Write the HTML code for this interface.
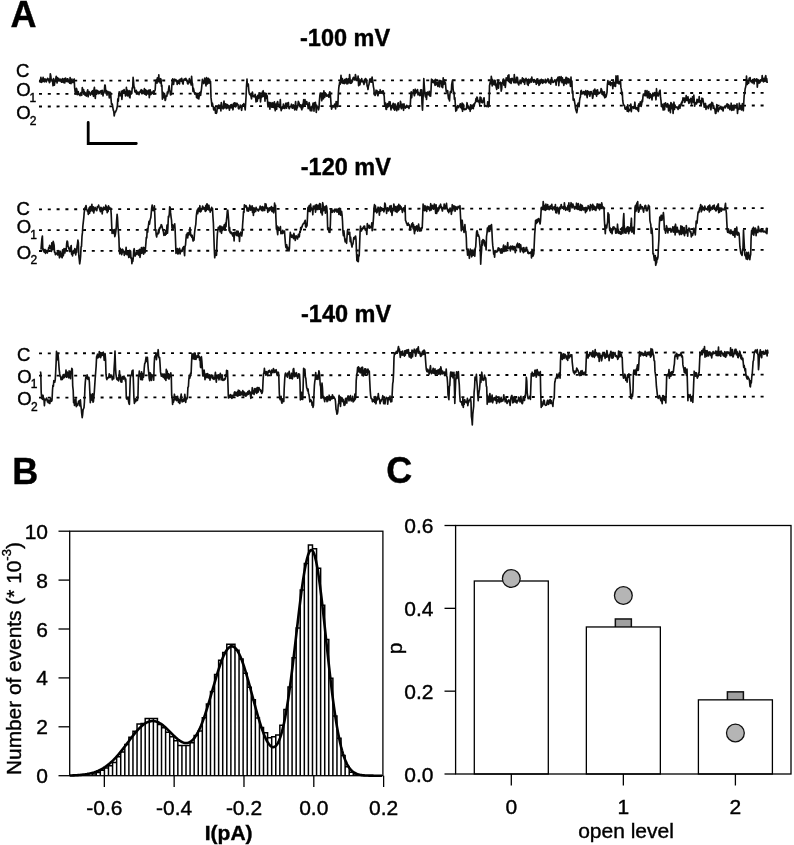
<!DOCTYPE html>
<html><head><meta charset="utf-8"><style>html,body{margin:0;padding:0;background:#fff;width:794px;height:845px;overflow:hidden}svg{display:block}text{font-family:"Liberation Sans",sans-serif;stroke:#000;stroke-width:0.4px}svg{filter:grayscale(1)}</style></head>
<body>
<svg width="794" height="845" viewBox="0 0 794 845" font-family="Liberation Sans, sans-serif">
<rect width="794" height="845" fill="#fff"/>
<text x="10.5" y="27" font-size="36" font-weight="bold" fill="#000">A</text>
<text x="12.3" y="483.5" font-size="36" font-weight="bold" fill="#000">B</text>
<text x="386.3" y="482.8" font-size="36" font-weight="bold" fill="#000">C</text>
<text x="300" y="46" font-size="23.5" font-weight="bold" fill="#000">-100 mV</text>
<text x="300.8" y="175" font-size="23.5" font-weight="bold" fill="#000">-120 mV</text>
<text x="301" y="322" font-size="23.5" font-weight="bold" fill="#000">-140 mV</text>
<text x="16" y="77.3" font-size="18.5" fill="#000">C</text><text x="16.2" y="96" font-size="18.5" fill="#000">O</text><text x="29.6" y="101.6" font-size="12" fill="#000">1</text><text x="16.2" y="119" font-size="18.5" fill="#000">O</text><text x="29.8" y="124.5" font-size="12" fill="#000">2</text>
<text x="16.6" y="215" font-size="18.5" fill="#000">C</text><text x="16.8" y="233.3" font-size="18.5" fill="#000">O</text><text x="30.200000000000003" y="238.7" font-size="12" fill="#000">1</text><text x="16.8" y="258.6" font-size="18.5" fill="#000">O</text><text x="30.400000000000002" y="263.7" font-size="12" fill="#000">2</text>
<text x="17.1" y="360.8" font-size="18.5" fill="#000">C</text><text x="17.3" y="382.8" font-size="18.5" fill="#000">O</text><text x="30.700000000000003" y="388.3" font-size="12" fill="#000">1</text><text x="17.3" y="405.4" font-size="18.5" fill="#000">O</text><text x="30.900000000000002" y="411" font-size="12" fill="#000">2</text>
<line x1="39" y1="80.6" x2="768" y2="80.0" stroke="#000" stroke-width="1.8" stroke-dasharray="3 5.8"/>
<line x1="39" y1="93.9" x2="768" y2="92.9" stroke="#000" stroke-width="1.8" stroke-dasharray="3 5.8"/>
<line x1="39" y1="106.5" x2="768" y2="105.5" stroke="#000" stroke-width="1.8" stroke-dasharray="3 5.8"/>
<line x1="39" y1="209.3" x2="768" y2="208.2" stroke="#000" stroke-width="1.8" stroke-dasharray="3 5.8"/>
<line x1="39" y1="230.1" x2="768" y2="228.9" stroke="#000" stroke-width="1.8" stroke-dasharray="3 5.8"/>
<line x1="39" y1="251.0" x2="768" y2="249.9" stroke="#000" stroke-width="1.8" stroke-dasharray="3 5.8"/>
<line x1="39" y1="353.3" x2="768" y2="352.4" stroke="#000" stroke-width="1.8" stroke-dasharray="3 5.8"/>
<line x1="39" y1="375.6" x2="768" y2="374.7" stroke="#000" stroke-width="1.8" stroke-dasharray="3 5.8"/>
<line x1="39" y1="397.6" x2="768" y2="396.7" stroke="#000" stroke-width="1.8" stroke-dasharray="3 5.8"/>
<path d="M39.5,80.9 L40.0,82.0 L40.4,80.8 L40.9,77.4 L41.3,82.4 L41.8,81.2 L42.2,79.0 L42.7,81.7 L43.1,77.4 L43.6,81.0 L44.0,80.8 L44.5,81.8 L44.9,78.9 L45.4,80.0 L45.8,79.4 L46.3,81.9 L46.7,80.4 L47.2,79.7 L47.6,78.3 L48.1,79.3 L48.5,79.8 L49.0,79.2 L49.4,82.6 L49.9,82.0 L50.3,73.8 L50.8,75.9 L51.2,79.7 L51.7,79.5 L52.1,81.3 L52.6,81.4 L53.0,85.8 L53.5,78.5 L53.9,80.0 L54.4,85.2 L54.8,82.0 L55.3,81.7 L55.7,78.8 L56.2,76.4 L56.6,80.3 L57.1,83.0 L57.5,77.6 L58.0,78.8 L58.4,80.4 L58.9,78.6 L59.3,80.6 L59.8,80.9 L60.2,80.7 L60.7,79.2 L61.1,81.5 L61.6,82.2 L62.0,81.2 L62.5,78.6 L62.9,82.1 L63.4,79.5 L63.8,82.6 L64.3,78.5 L64.7,83.0 L65.2,81.0 L65.6,78.1 L66.1,80.4 L66.5,81.2 L67.0,81.6 L67.4,78.9 L67.9,78.9 L68.3,81.8 L68.8,80.4 L69.2,82.1 L69.7,83.2 L70.1,77.6 L70.6,81.6 L71.0,83.6 L71.5,79.9 L71.9,79.0 L72.4,82.5 L72.8,81.2 L73.3,82.3 L73.7,79.7 L74.2,79.0 L74.6,87.5 L75.1,91.5 L75.5,93.8 L76.0,92.3 L76.4,88.3 L76.9,89.7 L77.3,94.7 L77.8,94.3 L78.2,91.5 L78.7,93.7 L79.1,94.6 L79.6,94.9 L80.0,95.7 L80.5,94.0 L80.9,92.7 L81.4,92.4 L81.8,95.3 L82.3,87.6 L82.7,92.1 L83.2,92.5 L83.6,89.6 L84.1,93.7 L84.5,91.9 L85.0,95.1 L85.4,92.8 L85.9,94.9 L86.3,96.1 L86.8,94.2 L87.2,91.5 L87.7,89.9 L88.1,96.8 L88.6,92.8 L89.0,91.6 L89.5,93.3 L89.9,92.8 L90.4,95.2 L90.8,93.2 L91.3,93.0 L91.7,91.6 L92.2,94.1 L92.6,90.7 L93.1,94.5 L93.5,96.3 L94.0,89.4 L94.4,87.3 L94.9,94.4 L95.3,98.5 L95.8,90.8 L96.2,90.1 L96.7,94.1 L97.1,90.8 L97.6,90.5 L98.0,91.9 L98.5,93.6 L98.9,91.7 L99.4,93.4 L99.8,92.5 L100.3,91.0 L100.7,92.3 L101.2,90.9 L101.6,93.1 L102.1,90.4 L102.5,90.5 L103.0,96.0 L103.4,92.9 L103.9,93.0 L104.3,91.4 L104.8,85.1 L105.2,85.3 L105.7,90.9 L106.1,93.7 L106.6,90.7 L107.0,95.2 L107.5,92.1 L107.9,91.5 L108.4,92.3 L108.8,93.4 L109.3,98.0 L109.7,92.0 L110.2,95.8 L110.6,92.6 L111.1,99.7 L111.5,104.1 L112.0,103.7 L112.4,104.5 L112.9,107.8 L113.3,110.1 L113.8,111.4 L114.2,115.9 L114.7,113.3 L115.1,112.0 L115.6,111.9 L116.0,110.7 L116.5,109.8 L116.9,108.1 L117.4,106.0 L117.8,98.8 L118.3,101.3 L118.7,95.4 L119.2,91.9 L119.6,95.0 L120.1,95.8 L120.5,94.1 L121.0,93.6 L121.4,91.2 L121.9,99.5 L122.3,95.0 L122.8,90.5 L123.2,91.2 L123.7,93.1 L124.1,89.6 L124.6,93.1 L125.0,92.0 L125.5,96.0 L125.9,95.6 L126.4,87.3 L126.8,93.5 L127.3,90.0 L127.7,96.0 L128.2,93.8 L128.6,94.6 L129.1,90.6 L129.5,97.0 L130.0,97.8 L130.4,91.2 L130.9,94.3 L131.3,91.7 L131.8,93.5 L132.2,87.8 L132.7,88.0 L133.1,77.3 L133.6,82.1 L134.0,86.7 L134.5,87.6 L134.9,92.0 L135.4,91.9 L135.8,92.7 L136.3,90.4 L136.7,91.8 L137.2,92.3 L137.6,92.2 L138.1,93.1 L138.5,92.3 L139.0,94.6 L139.4,92.0 L139.9,92.5 L140.3,91.2 L140.8,91.5 L141.2,89.7 L141.7,93.7 L142.1,90.2 L142.6,90.9 L143.0,93.6 L143.5,92.9 L143.9,92.1 L144.4,88.6 L144.8,94.1 L145.3,93.6 L145.7,89.9 L146.2,95.1 L146.6,91.8 L147.1,90.7 L147.5,93.4 L148.0,92.8 L148.4,94.0 L148.9,90.1 L149.3,97.6 L149.8,92.2 L150.2,89.9 L150.7,94.6 L151.1,92.5 L151.6,93.9 L152.0,92.1 L152.5,92.6 L152.9,93.3 L153.4,90.9 L153.8,94.2 L154.3,91.5 L154.7,91.0 L155.2,89.7 L155.6,82.2 L156.1,81.1 L156.5,79.7 L157.0,83.2 L157.4,77.9 L157.9,79.6 L158.3,81.7 L158.8,74.9 L159.2,81.2 L159.7,80.9 L160.1,82.9 L160.6,78.7 L161.0,79.3 L161.5,86.4 L161.9,85.2 L162.4,99.2 L162.8,92.1 L163.3,93.3 L163.7,97.7 L164.2,97.0 L164.6,94.4 L165.1,100.4 L165.5,99.9 L166.0,96.3 L166.4,95.6 L166.9,96.2 L167.3,92.1 L167.8,93.8 L168.2,91.9 L168.7,88.3 L169.1,85.8 L169.6,90.4 L170.0,91.1 L170.5,94.9 L170.9,93.2 L171.4,94.4 L171.8,85.9 L172.3,81.3 L172.7,78.8 L173.2,82.1 L173.6,84.5 L174.1,80.0 L174.5,79.2 L175.0,80.6 L175.4,79.8 L175.9,79.6 L176.3,81.5 L176.8,80.5 L177.2,84.4 L177.7,81.1 L178.1,81.9 L178.6,83.2 L179.0,80.2 L179.5,84.0 L179.9,79.7 L180.4,79.2 L180.8,80.2 L181.3,81.1 L181.7,78.3 L182.2,81.2 L182.6,83.1 L183.1,84.1 L183.5,80.7 L184.0,79.6 L184.4,78.9 L184.9,80.0 L185.3,80.2 L185.8,78.4 L186.2,79.3 L186.7,80.9 L187.1,80.3 L187.6,83.5 L188.0,84.0 L188.5,81.4 L188.9,82.5 L189.4,78.5 L189.8,82.6 L190.3,81.4 L190.7,82.5 L191.2,85.0 L191.6,76.3 L192.1,82.5 L192.5,83.7 L193.0,91.4 L193.4,88.1 L193.9,90.4 L194.3,92.6 L194.8,94.1 L195.2,93.8 L195.7,92.8 L196.1,93.7 L196.6,97.6 L197.0,96.4 L197.5,93.5 L197.9,98.4 L198.4,98.6 L198.8,98.9 L199.3,95.3 L199.7,92.7 L200.2,92.3 L200.6,95.3 L201.1,91.6 L201.5,88.8 L202.0,83.9 L202.4,79.3 L202.9,80.9 L203.3,81.3 L203.8,83.6 L204.2,82.4 L204.7,78.2 L205.1,81.8 L205.6,82.7 L206.0,86.0 L206.5,77.5 L206.9,79.8 L207.4,83.9 L207.8,83.5 L208.3,78.3 L208.7,82.2 L209.2,83.1 L209.6,79.4 L210.1,82.1 L210.5,81.4 L211.0,97.4 L211.4,100.9 L211.9,106.2 L212.3,103.0 L212.8,105.3 L213.2,106.3 L213.7,109.8 L214.1,109.8 L214.6,107.7 L215.0,107.3 L215.5,113.2 L215.9,112.3 L216.4,113.3 L216.8,112.3 L217.3,106.9 L217.7,108.8 L218.2,107.5 L218.6,105.1 L219.1,108.4 L219.5,107.3 L220.0,105.3 L220.4,105.7 L220.9,110.9 L221.3,102.5 L221.8,107.2 L222.2,108.0 L222.7,107.0 L223.1,108.9 L223.6,103.9 L224.0,101.0 L224.5,108.0 L224.9,103.9 L225.4,105.7 L225.8,103.9 L226.3,108.6 L226.7,107.9 L227.2,104.6 L227.6,108.0 L228.1,106.1 L228.5,105.4 L229.0,105.9 L229.4,110.2 L229.9,106.8 L230.3,106.4 L230.8,104.8 L231.2,108.0 L231.7,104.6 L232.1,106.8 L232.6,107.3 L233.0,109.8 L233.5,103.5 L233.9,105.9 L234.4,102.9 L234.8,103.2 L235.3,103.1 L235.7,106.8 L236.2,106.1 L236.6,103.4 L237.1,103.4 L237.5,104.7 L238.0,104.5 L238.4,108.4 L238.9,108.9 L239.3,108.0 L239.8,107.0 L240.2,105.1 L240.7,106.0 L241.1,107.7 L241.6,110.3 L242.0,107.6 L242.5,104.9 L242.9,105.5 L243.4,104.4 L243.8,103.7 L244.3,105.0 L244.7,106.2 L245.2,110.0 L245.6,103.6 L246.1,95.8 L246.5,86.0 L247.0,79.0 L247.4,85.2 L247.9,86.1 L248.3,84.1 L248.8,90.5 L249.2,93.2 L249.7,94.5 L250.1,94.5 L250.6,95.3 L251.0,96.1 L251.5,98.8 L251.9,95.1 L252.4,92.1 L252.8,95.8 L253.3,96.7 L253.7,95.7 L254.2,96.2 L254.6,96.9 L255.1,94.3 L255.5,95.6 L256.0,101.9 L256.4,98.2 L256.9,96.8 L257.3,101.3 L257.8,95.3 L258.2,97.5 L258.7,98.3 L259.1,92.8 L259.6,94.0 L260.0,93.1 L260.5,101.9 L260.9,98.6 L261.4,96.6 L261.8,95.5 L262.3,92.2 L262.7,96.8 L263.2,90.7 L263.6,96.3 L264.1,95.7 L264.5,93.0 L265.0,101.1 L265.4,93.3 L265.9,94.1 L266.3,93.6 L266.8,98.6 L267.2,95.9 L267.7,103.8 L268.1,106.8 L268.6,105.8 L269.0,102.4 L269.5,103.9 L269.9,109.2 L270.4,102.7 L270.8,103.7 L271.3,104.9 L271.7,107.2 L272.2,102.7 L272.6,107.1 L273.1,103.1 L273.5,107.5 L274.0,106.8 L274.4,101.9 L274.9,108.9 L275.3,110.7 L275.8,104.1 L276.2,106.1 L276.7,109.2 L277.1,102.7 L277.6,101.5 L278.0,103.3 L278.5,104.8 L278.9,104.9 L279.4,107.5 L279.8,106.6 L280.3,99.5 L280.7,107.4 L281.2,110.6 L281.6,109.1 L282.1,108.7 L282.5,106.5 L283.0,108.3 L283.4,104.1 L283.9,107.9 L284.3,106.1 L284.8,108.5 L285.2,106.8 L285.7,103.3 L286.1,105.8 L286.6,108.2 L287.0,103.0 L287.5,104.5 L287.9,104.2 L288.4,102.5 L288.8,107.9 L289.3,108.7 L289.7,107.7 L290.2,106.7 L290.6,106.1 L291.1,106.5 L291.5,104.2 L292.0,107.9 L292.4,108.2 L292.9,108.2 L293.3,104.9 L293.8,106.3 L294.2,105.8 L294.7,110.0 L295.1,106.3 L295.6,101.5 L296.0,106.7 L296.5,110.0 L296.9,107.4 L297.4,107.6 L297.8,105.5 L298.3,101.4 L298.7,101.9 L299.2,103.5 L299.6,106.0 L300.1,106.8 L300.5,104.8 L301.0,105.7 L301.4,108.6 L301.9,109.8 L302.3,104.6 L302.8,107.8 L303.2,103.9 L303.7,99.7 L304.1,103.3 L304.6,105.4 L305.0,99.5 L305.5,104.7 L305.9,104.4 L306.4,101.8 L306.8,101.6 L307.3,104.4 L307.7,104.3 L308.2,108.6 L308.6,106.9 L309.1,102.5 L309.5,104.4 L310.0,109.7 L310.4,110.7 L310.9,107.3 L311.3,107.0 L311.8,110.8 L312.2,106.7 L312.7,105.7 L313.1,103.1 L313.6,105.0 L314.0,111.1 L314.5,102.8 L314.9,105.8 L315.4,102.3 L315.8,105.6 L316.3,112.5 L316.7,105.3 L317.2,107.6 L317.6,107.6 L318.1,107.1 L318.5,109.8 L319.0,107.7 L319.4,101.0 L319.9,95.1 L320.3,93.0 L320.8,95.6 L321.2,93.9 L321.7,100.8 L322.1,99.1 L322.6,94.6 L323.0,94.5 L323.5,98.8 L323.9,90.9 L324.4,96.3 L324.8,97.1 L325.3,92.9 L325.7,93.6 L326.2,93.9 L326.6,96.1 L327.1,95.1 L327.5,95.7 L328.0,96.2 L328.4,94.9 L328.9,97.2 L329.3,93.3 L329.8,91.8 L330.2,93.5 L330.7,98.9 L331.1,105.4 L331.6,109.1 L332.0,107.5 L332.5,106.1 L332.9,105.5 L333.4,106.6 L333.8,107.0 L334.3,106.2 L334.7,104.0 L335.2,106.1 L335.6,109.0 L336.1,101.5 L336.5,105.6 L337.0,101.8 L337.4,106.6 L337.9,104.8 L338.3,94.1 L338.8,87.7 L339.2,85.5 L339.7,82.1 L340.1,84.3 L340.6,81.6 L341.0,75.3 L341.5,82.7 L341.9,80.9 L342.4,78.6 L342.8,83.3 L343.3,82.3 L343.7,80.6 L344.2,83.6 L344.6,79.6 L345.1,83.1 L345.5,79.3 L346.0,82.5 L346.4,78.6 L346.9,83.9 L347.3,81.2 L347.8,83.7 L348.2,78.8 L348.7,79.5 L349.1,82.6 L349.6,74.6 L350.0,78.5 L350.5,83.3 L350.9,82.0 L351.4,83.1 L351.8,80.2 L352.3,82.0 L352.7,79.0 L353.2,77.8 L353.6,77.3 L354.1,79.7 L354.5,79.9 L355.0,79.5 L355.4,74.5 L355.9,76.8 L356.3,80.1 L356.8,79.2 L357.2,80.0 L357.7,79.2 L358.1,76.1 L358.6,85.8 L359.0,78.8 L359.5,85.0 L359.9,84.8 L360.4,81.8 L360.8,79.8 L361.3,81.7 L361.7,78.6 L362.2,81.7 L362.6,80.9 L363.1,82.0 L363.5,82.8 L364.0,84.5 L364.4,79.8 L364.9,82.7 L365.3,78.7 L365.8,78.5 L366.2,79.9 L366.7,80.4 L367.1,86.0 L367.6,87.2 L368.0,89.5 L368.5,85.4 L368.9,85.0 L369.4,81.7 L369.8,79.0 L370.3,81.9 L370.7,81.8 L371.2,78.6 L371.6,82.2 L372.1,77.0 L372.5,80.4 L373.0,82.8 L373.4,86.6 L373.9,89.2 L374.3,94.6 L374.8,94.0 L375.2,95.4 L375.7,93.2 L376.1,90.2 L376.6,92.3 L377.0,90.6 L377.5,94.1 L377.9,95.7 L378.4,93.9 L378.8,91.7 L379.3,92.1 L379.7,93.1 L380.2,89.7 L380.6,93.2 L381.1,93.2 L381.5,91.6 L382.0,91.8 L382.4,92.9 L382.9,90.8 L383.3,91.0 L383.8,94.5 L384.2,96.0 L384.7,105.7 L385.1,105.0 L385.6,103.1 L386.0,109.3 L386.5,109.3 L386.9,105.6 L387.4,103.9 L387.8,107.2 L388.3,103.3 L388.7,106.1 L389.2,101.7 L389.6,106.0 L390.1,101.8 L390.5,106.0 L391.0,110.0 L391.4,105.9 L391.9,108.0 L392.3,105.1 L392.8,104.8 L393.2,103.3 L393.7,108.9 L394.1,106.5 L394.6,110.2 L395.0,103.9 L395.5,106.2 L395.9,106.8 L396.4,109.6 L396.8,110.7 L397.3,105.2 L397.7,104.1 L398.2,102.8 L398.6,109.6 L399.1,106.9 L399.5,105.5 L400.0,107.0 L400.4,101.3 L400.9,103.1 L401.3,108.7 L401.8,107.4 L402.2,106.8 L402.7,104.2 L403.1,107.7 L403.6,110.3 L404.0,103.9 L404.5,106.9 L404.9,106.2 L405.4,108.1 L405.8,107.4 L406.3,107.1 L406.7,105.3 L407.2,107.3 L407.6,106.1 L408.1,106.9 L408.5,106.9 L409.0,108.4 L409.4,105.7 L409.9,106.1 L410.3,104.9 L410.8,95.7 L411.2,91.9 L411.7,97.8 L412.1,93.2 L412.6,92.8 L413.0,93.2 L413.5,89.8 L413.9,93.7 L414.4,95.7 L414.8,94.0 L415.3,89.2 L415.7,93.1 L416.2,90.8 L416.6,91.7 L417.1,92.7 L417.5,89.5 L418.0,95.0 L418.4,92.2 L418.9,94.2 L419.3,94.1 L419.8,95.6 L420.2,95.5 L420.7,89.9 L421.1,93.6 L421.6,89.9 L422.0,103.9 L422.5,110.1 L422.9,100.7 L423.4,91.7 L423.8,78.5 L424.3,86.1 L424.7,91.7 L425.2,96.0 L425.6,96.9 L426.1,92.8 L426.5,99.5 L427.0,93.1 L427.4,92.1 L427.9,94.2 L428.3,94.6 L428.8,93.7 L429.2,91.3 L429.7,95.9 L430.1,92.7 L430.6,96.2 L431.0,90.4 L431.5,79.2 L431.9,79.8 L432.4,79.9 L432.8,82.4 L433.3,82.0 L433.7,82.7 L434.2,80.3 L434.6,83.1 L435.1,85.3 L435.5,79.3 L436.0,84.8 L436.4,83.3 L436.9,82.4 L437.3,82.2 L437.8,86.4 L438.2,85.1 L438.7,83.8 L439.1,80.4 L439.6,86.9 L440.0,82.5 L440.5,80.6 L440.9,81.3 L441.4,81.0 L441.8,87.0 L442.3,83.0 L442.7,87.6 L443.2,77.9 L443.6,84.5 L444.1,80.3 L444.5,80.1 L445.0,84.1 L445.4,82.7 L445.9,88.6 L446.3,91.7 L446.8,90.4 L447.2,92.5 L447.7,90.7 L448.1,95.6 L448.6,99.0 L449.0,95.5 L449.5,100.9 L449.9,94.6 L450.4,91.5 L450.8,92.6 L451.3,92.5 L451.7,84.6 L452.2,81.6 L452.6,80.0 L453.1,89.2 L453.5,92.2 L454.0,92.1 L454.4,99.3 L454.9,97.7 L455.3,103.7 L455.8,111.3 L456.2,106.7 L456.7,110.1 L457.1,107.5 L457.6,105.7 L458.0,106.7 L458.5,107.7 L458.9,106.4 L459.4,105.4 L459.8,105.5 L460.3,103.8 L460.7,107.3 L461.2,107.7 L461.6,108.7 L462.1,103.0 L462.5,111.3 L463.0,107.3 L463.4,104.2 L463.9,107.9 L464.3,109.6 L464.8,109.0 L465.2,109.4 L465.7,109.5 L466.1,109.3 L466.6,107.2 L467.0,102.7 L467.5,105.4 L467.9,108.0 L468.4,106.0 L468.8,108.4 L469.3,109.2 L469.7,107.3 L470.2,111.3 L470.6,104.9 L471.1,109.1 L471.5,105.9 L472.0,105.3 L472.4,108.2 L472.9,105.2 L473.3,108.7 L473.8,104.1 L474.2,106.2 L474.7,103.1 L475.1,103.1 L475.6,101.4 L476.0,98.6 L476.5,101.5 L476.9,97.0 L477.4,97.7 L477.8,101.6 L478.3,101.8 L478.7,101.0 L479.2,100.3 L479.6,104.5 L480.1,97.0 L480.5,98.3 L481.0,97.7 L481.4,102.2 L481.9,100.9 L482.3,102.8 L482.8,102.2 L483.2,99.8 L483.7,98.3 L484.1,97.8 L484.6,106.5 L485.0,105.4 L485.5,106.0 L485.9,105.8 L486.4,106.5 L486.8,106.0 L487.3,106.0 L487.7,101.8 L488.2,106.9 L488.6,106.1 L489.1,105.6 L489.5,85.7 L490.0,83.3 L490.4,81.6 L490.9,83.6 L491.3,76.3 L491.8,79.6 L492.2,86.0 L492.7,79.7 L493.1,82.2 L493.6,84.5 L494.0,81.1 L494.5,84.8 L494.9,80.2 L495.4,81.4 L495.8,85.3 L496.3,87.5 L496.7,89.4 L497.2,84.7 L497.6,83.3 L498.1,80.3 L498.5,88.2 L499.0,82.3 L499.4,82.5 L499.9,83.7 L500.3,82.2 L500.8,84.3 L501.2,91.2 L501.7,88.7 L502.1,82.5 L502.6,83.1 L503.0,79.8 L503.5,79.0 L503.9,85.2 L504.4,80.2 L504.8,81.3 L505.3,87.5 L505.7,83.6 L506.2,77.9 L506.6,79.8 L507.1,80.0 L507.5,80.3 L508.0,75.7 L508.4,81.2 L508.9,74.9 L509.3,81.9 L509.8,82.5 L510.2,82.6 L510.7,78.8 L511.1,83.4 L511.6,79.5 L512.0,78.4 L512.5,79.0 L512.9,79.2 L513.4,81.2 L513.8,82.6 L514.3,74.5 L514.7,79.7 L515.2,82.8 L515.6,81.4 L516.1,81.9 L516.5,77.3 L517.0,82.8 L517.4,77.4 L517.9,81.1 L518.3,83.8 L518.8,84.9 L519.2,82.0 L519.7,83.0 L520.1,80.0 L520.6,80.2 L521.0,83.6 L521.5,81.2 L521.9,80.6 L522.4,77.9 L522.8,81.2 L523.3,82.2 L523.7,78.9 L524.2,79.6 L524.6,84.3 L525.1,81.2 L525.5,80.3 L526.0,78.4 L526.4,79.6 L526.9,80.6 L527.3,84.1 L527.8,79.7 L528.2,85.4 L528.7,79.2 L529.1,80.4 L529.6,82.9 L530.0,80.7 L530.5,79.2 L530.9,80.8 L531.4,82.1 L531.8,77.0 L532.3,80.4 L532.7,80.6 L533.2,79.9 L533.6,82.2 L534.1,79.5 L534.5,79.9 L535.0,81.6 L535.4,82.4 L535.9,80.5 L536.3,84.3 L536.8,79.2 L537.2,83.1 L537.7,78.9 L538.1,80.4 L538.6,81.6 L539.0,85.3 L539.5,82.5 L539.9,80.0 L540.4,83.7 L540.8,80.4 L541.3,79.3 L541.7,82.2 L542.2,81.3 L542.6,83.3 L543.1,80.1 L543.5,82.1 L544.0,82.5 L544.4,81.6 L544.9,81.0 L545.3,79.4 L545.8,82.9 L546.2,81.1 L546.7,81.8 L547.1,79.9 L547.6,80.6 L548.0,78.7 L548.5,81.0 L548.9,82.7 L549.4,81.4 L549.8,83.0 L550.3,81.8 L550.7,84.1 L551.2,80.9 L551.6,77.6 L552.1,82.0 L552.5,80.3 L553.0,82.5 L553.4,82.3 L553.9,81.5 L554.3,81.6 L554.8,79.9 L555.2,81.1 L555.7,81.6 L556.1,85.1 L556.6,79.3 L557.0,80.8 L557.5,80.6 L557.9,77.3 L558.4,77.3 L558.8,85.6 L559.3,76.8 L559.7,81.9 L560.2,79.1 L560.6,79.3 L561.1,76.6 L561.5,78.9 L562.0,82.7 L562.4,77.8 L562.9,82.2 L563.3,81.7 L563.8,85.4 L564.2,79.6 L564.7,83.6 L565.1,82.8 L565.6,80.4 L566.0,77.3 L566.5,84.0 L566.9,77.7 L567.4,79.5 L567.8,82.6 L568.3,82.9 L568.7,78.5 L569.2,80.3 L569.6,79.9 L570.1,83.4 L570.5,86.4 L571.0,77.0 L571.4,85.9 L571.9,81.1 L572.3,93.2 L572.8,91.1 L573.2,100.2 L573.7,98.8 L574.1,99.2 L574.6,102.0 L575.0,104.4 L575.5,108.4 L575.9,110.0 L576.4,111.5 L576.8,112.7 L577.3,109.8 L577.7,104.6 L578.2,103.0 L578.6,103.8 L579.1,106.6 L579.5,100.9 L580.0,97.8 L580.4,96.9 L580.9,90.9 L581.3,90.4 L581.8,93.9 L582.2,92.3 L582.7,92.2 L583.1,93.8 L583.6,91.8 L584.0,91.6 L584.5,92.2 L584.9,94.9 L585.4,93.4 L585.8,90.6 L586.3,92.6 L586.7,94.8 L587.2,97.7 L587.6,90.9 L588.1,93.9 L588.5,92.4 L589.0,91.6 L589.4,94.1 L589.9,96.2 L590.3,93.9 L590.8,91.5 L591.2,91.5 L591.7,93.7 L592.1,93.9 L592.6,98.3 L593.0,96.7 L593.5,90.6 L593.9,94.1 L594.4,90.0 L594.8,89.1 L595.3,94.5 L595.7,94.0 L596.2,90.4 L596.6,96.3 L597.1,90.5 L597.5,89.8 L598.0,94.1 L598.4,93.3 L598.9,92.4 L599.3,92.5 L599.8,93.3 L600.2,92.3 L600.7,92.1 L601.1,88.6 L601.6,89.7 L602.0,94.1 L602.5,91.3 L602.9,94.0 L603.4,95.6 L603.8,92.4 L604.3,91.9 L604.7,97.8 L605.2,94.7 L605.6,97.2 L606.1,96.5 L606.5,94.7 L607.0,92.6 L607.4,84.4 L607.9,80.6 L608.3,84.1 L608.8,84.2 L609.2,82.4 L609.7,84.5 L610.1,81.4 L610.6,85.5 L611.0,83.1 L611.5,82.8 L611.9,83.0 L612.4,82.8 L612.8,88.7 L613.3,80.0 L613.7,83.8 L614.2,85.9 L614.6,84.7 L615.1,82.3 L615.5,86.4 L616.0,75.9 L616.4,79.0 L616.9,82.9 L617.3,78.3 L617.8,75.9 L618.2,83.3 L618.7,83.5 L619.1,83.9 L619.6,81.5 L620.0,83.4 L620.5,81.0 L620.9,87.4 L621.4,89.6 L621.8,94.6 L622.3,92.2 L622.7,100.2 L623.2,103.6 L623.6,104.7 L624.1,105.5 L624.5,105.5 L625.0,108.6 L625.4,109.2 L625.9,108.4 L626.3,108.1 L626.8,106.8 L627.2,111.3 L627.7,104.9 L628.1,107.3 L628.6,111.7 L629.0,109.5 L629.5,110.4 L629.9,109.8 L630.4,108.7 L630.8,104.0 L631.3,111.6 L631.7,108.2 L632.2,106.9 L632.6,107.4 L633.1,106.7 L633.5,108.4 L634.0,108.4 L634.4,106.8 L634.9,102.2 L635.3,107.8 L635.8,108.9 L636.2,109.0 L636.7,107.5 L637.1,108.9 L637.6,110.0 L638.0,107.0 L638.5,111.4 L638.9,103.9 L639.4,105.3 L639.8,106.0 L640.3,101.8 L640.7,103.3 L641.2,106.4 L641.6,104.4 L642.1,100.0 L642.5,101.6 L643.0,96.4 L643.4,94.2 L643.9,95.2 L644.3,93.9 L644.8,95.6 L645.2,90.5 L645.7,95.6 L646.1,92.8 L646.6,95.7 L647.0,90.6 L647.5,97.6 L647.9,94.2 L648.4,95.9 L648.8,91.6 L649.3,98.5 L649.7,95.6 L650.2,93.5 L650.6,97.3 L651.1,94.9 L651.5,97.3 L652.0,99.9 L652.4,95.9 L652.9,93.0 L653.3,93.4 L653.8,95.9 L654.2,95.0 L654.7,92.5 L655.1,92.9 L655.6,96.0 L656.0,99.8 L656.5,88.7 L656.9,95.7 L657.4,93.5 L657.8,95.8 L658.3,96.0 L658.7,94.2 L659.2,92.0 L659.6,91.1 L660.1,90.2 L660.5,97.2 L661.0,100.6 L661.4,106.4 L661.9,106.7 L662.3,104.3 L662.8,107.7 L663.2,110.0 L663.7,109.6 L664.1,103.5 L664.6,109.8 L665.0,105.2 L665.5,102.8 L665.9,104.3 L666.4,104.7 L666.8,107.0 L667.3,104.6 L667.7,103.7 L668.2,106.4 L668.6,111.0 L669.1,105.0 L669.5,107.8 L670.0,106.9 L670.4,112.6 L670.9,102.5 L671.3,108.8 L671.8,103.6 L672.2,105.1 L672.7,106.5 L673.1,113.5 L673.6,105.1 L674.0,102.2 L674.5,109.5 L674.9,105.1 L675.4,106.6 L675.8,107.3 L676.3,107.5 L676.7,106.9 L677.2,108.0 L677.6,108.3 L678.1,109.4 L678.5,106.4 L679.0,105.6 L679.4,104.9 L679.9,108.3 L680.3,105.6 L680.8,105.2 L681.2,103.2 L681.7,104.3 L682.1,101.2 L682.6,102.2 L683.0,97.9 L683.5,98.2 L683.9,100.2 L684.4,98.0 L684.8,102.3 L685.3,98.0 L685.7,101.0 L686.2,95.6 L686.6,98.5 L687.1,100.3 L687.5,100.4 L688.0,96.9 L688.4,101.2 L688.9,103.3 L689.3,102.6 L689.8,99.6 L690.2,99.6 L690.7,98.4 L691.1,102.1 L691.6,104.1 L692.0,99.9 L692.5,96.9 L692.9,101.1 L693.4,102.3 L693.8,95.1 L694.3,101.3 L694.7,106.1 L695.2,103.2 L695.6,102.6 L696.1,102.6 L696.5,103.9 L697.0,99.3 L697.4,99.7 L697.9,102.4 L698.3,99.7 L698.8,101.6 L699.2,96.6 L699.7,102.2 L700.1,102.5 L700.6,100.9 L701.0,105.5 L701.5,104.0 L701.9,98.2 L702.4,98.8 L702.8,98.5 L703.3,101.8 L703.7,103.2 L704.2,107.2 L704.6,105.5 L705.1,103.9 L705.5,103.5 L706.0,109.5 L706.4,106.5 L706.9,106.1 L707.3,106.8 L707.8,106.7 L708.2,108.6 L708.7,107.9 L709.1,105.4 L709.6,104.8 L710.0,104.4 L710.5,104.1 L710.9,109.8 L711.4,104.6 L711.8,102.3 L712.3,105.1 L712.7,103.1 L713.2,108.3 L713.6,105.5 L714.1,108.4 L714.5,108.3 L715.0,110.2 L715.4,113.5 L715.9,113.5 L716.3,110.4 L716.8,104.6 L717.2,106.0 L717.7,107.7 L718.1,111.6 L718.6,108.6 L719.0,109.7 L719.5,107.4 L719.9,108.3 L720.4,108.6 L720.8,106.3 L721.3,108.9 L721.7,109.5 L722.2,107.1 L722.6,109.8 L723.1,111.0 L723.5,107.6 L724.0,107.3 L724.4,106.6 L724.9,106.1 L725.3,108.0 L725.8,106.4 L726.2,106.6 L726.7,105.4 L727.1,103.8 L727.6,105.3 L728.0,108.2 L728.5,104.5 L728.9,105.6 L729.4,107.0 L729.8,109.6 L730.3,105.8 L730.7,108.4 L731.2,103.2 L731.6,110.4 L732.1,105.6 L732.5,107.2 L733.0,110.0 L733.4,105.3 L733.9,109.9 L734.3,105.3 L734.8,107.9 L735.2,106.9 L735.7,107.5 L736.1,108.0 L736.6,107.3 L737.0,103.8 L737.5,113.5 L737.9,108.5 L738.4,109.5 L738.8,109.4 L739.3,103.2 L739.7,108.8 L740.2,109.0 L740.6,105.5 L741.1,108.8 L741.5,109.9 L742.0,105.5 L742.4,103.7 L742.9,106.0 L743.3,110.8 L743.8,101.7 L744.2,95.0 L744.7,93.8 L745.1,89.0 L745.6,87.1 L746.0,85.1 L746.5,76.0 L746.9,81.9 L747.4,84.5 L747.8,80.6 L748.3,80.2 L748.7,83.2 L749.2,78.2 L749.6,78.1 L750.1,77.6 L750.5,80.6 L751.0,81.7 L751.4,80.8 L751.9,82.3 L752.3,82.9 L752.8,82.1 L753.2,79.3 L753.7,80.7 L754.1,83.8 L754.6,78.9 L755.0,80.8 L755.5,80.5 L755.9,81.1 L756.4,79.3 L756.8,78.8 L757.3,87.1 L757.7,83.5 L758.2,79.7 L758.6,81.4 L759.1,83.1 L759.5,80.6 L760.0,82.5 L760.4,79.9 L760.9,80.5 L761.3,81.0 L761.8,80.2 L762.2,75.5 L762.7,80.8 L763.1,81.4 L763.6,81.8 L764.0,78.3 L764.5,81.3 L764.9,81.0 L765.4,76.6 L765.8,75.7 L766.3,81.7 L766.7,78.5 L767.2,83.0" fill="none" stroke="#111" stroke-width="1.65" stroke-linejoin="round"/>
<path d="M41.0,249.6 L41.5,243.2 L41.9,238.7 L42.4,236.0 L42.8,249.2 L43.3,250.8 L43.7,249.4 L44.2,252.1 L44.6,250.9 L45.1,249.6 L45.5,253.4 L46.0,250.8 L46.4,250.9 L46.9,250.3 L47.3,253.0 L47.8,250.8 L48.2,251.4 L48.7,247.7 L49.1,248.5 L49.6,245.3 L50.0,248.4 L50.5,246.3 L50.9,246.3 L51.4,251.4 L51.8,242.9 L52.3,247.0 L52.7,249.6 L53.2,241.4 L53.6,242.8 L54.1,245.2 L54.5,252.3 L55.0,252.2 L55.4,254.6 L55.9,254.1 L56.3,253.3 L56.8,253.7 L57.2,252.6 L57.7,255.0 L58.1,250.5 L58.6,252.4 L59.0,254.1 L59.5,257.8 L59.9,251.9 L60.4,251.4 L60.8,253.1 L61.3,256.8 L61.7,254.3 L62.2,257.8 L62.6,249.9 L63.1,255.9 L63.5,255.0 L64.0,248.5 L64.4,251.1 L64.9,252.9 L65.3,248.7 L65.8,248.7 L66.2,250.0 L66.7,243.3 L67.1,241.0 L67.6,241.9 L68.0,246.2 L68.5,247.0 L68.9,248.7 L69.4,249.8 L69.8,251.7 L70.3,248.1 L70.7,247.1 L71.2,245.5 L71.6,254.1 L72.1,251.9 L72.5,255.9 L73.0,252.6 L73.4,250.5 L73.9,253.1 L74.3,251.8 L74.8,248.5 L75.2,249.1 L75.7,254.9 L76.1,251.4 L76.6,252.4 L77.0,246.5 L77.5,243.8 L77.9,240.1 L78.4,243.0 L78.8,255.7 L79.3,260.0 L79.7,263.8 L80.2,260.3 L80.6,256.5 L81.1,246.7 L81.5,246.5 L82.0,236.3 L82.4,232.9 L82.9,225.7 L83.3,222.1 L83.8,217.7 L84.2,212.6 L84.7,209.3 L85.1,207.4 L85.6,207.1 L86.0,205.5 L86.5,208.4 L86.9,209.7 L87.4,211.1 L87.8,210.4 L88.3,214.5 L88.7,209.7 L89.2,207.8 L89.6,213.3 L90.1,206.6 L90.5,211.2 L91.0,206.5 L91.4,209.6 L91.9,204.4 L92.3,211.0 L92.8,208.7 L93.2,206.9 L93.7,213.0 L94.1,211.1 L94.6,209.5 L95.0,207.4 L95.5,208.8 L95.9,208.4 L96.4,210.5 L96.8,210.6 L97.3,206.8 L97.7,207.0 L98.2,207.0 L98.6,205.1 L99.1,207.2 L99.5,208.4 L100.0,210.1 L100.4,211.6 L100.9,207.3 L101.3,210.3 L101.8,208.0 L102.2,213.9 L102.7,209.1 L103.1,210.3 L103.6,207.2 L104.0,207.5 L104.5,209.3 L104.9,208.0 L105.4,209.5 L105.8,205.2 L106.3,210.2 L106.7,206.7 L107.2,212.7 L107.6,208.1 L108.1,211.4 L108.5,205.8 L109.0,209.2 L109.4,207.2 L109.9,208.2 L110.3,209.2 L110.8,208.3 L111.2,214.1 L111.7,225.7 L112.1,233.5 L112.6,232.3 L113.0,229.8 L113.5,231.3 L113.9,233.5 L114.4,229.6 L114.8,236.6 L115.3,234.8 L115.7,232.1 L116.2,228.2 L116.6,220.7 L117.1,214.4 L117.5,217.7 L118.0,227.1 L118.4,231.5 L118.9,238.3 L119.3,250.0 L119.8,253.8 L120.2,248.2 L120.7,252.8 L121.1,249.5 L121.6,254.7 L122.0,253.7 L122.5,249.2 L122.9,249.7 L123.4,251.9 L123.8,251.1 L124.3,255.4 L124.7,253.6 L125.2,251.7 L125.6,253.9 L126.1,247.3 L126.5,253.2 L127.0,254.7 L127.4,252.5 L127.9,251.5 L128.3,254.4 L128.8,257.5 L129.2,253.5 L129.7,250.4 L130.1,256.9 L130.6,251.1 L131.0,258.5 L131.5,257.9 L131.9,263.6 L132.4,258.4 L132.8,261.5 L133.3,257.4 L133.7,250.7 L134.2,248.7 L134.6,252.4 L135.1,256.2 L135.5,253.4 L136.0,253.2 L136.4,252.3 L136.9,254.6 L137.3,253.4 L137.8,253.1 L138.2,250.3 L138.7,255.0 L139.1,255.5 L139.6,249.4 L140.0,257.5 L140.5,253.7 L140.9,251.6 L141.4,247.5 L141.8,253.1 L142.3,252.9 L142.7,250.4 L143.2,247.4 L143.6,254.2 L144.1,249.9 L144.5,247.8 L145.0,252.7 L145.4,248.6 L145.9,243.1 L146.3,237.3 L146.8,237.8 L147.2,228.8 L147.7,232.1 L148.1,227.9 L148.6,224.4 L149.0,221.4 L149.5,224.2 L149.9,221.1 L150.4,218.7 L150.8,217.6 L151.3,212.4 L151.7,207.8 L152.2,205.0 L152.6,208.3 L153.1,210.6 L153.5,208.4 L154.0,210.0 L154.4,205.8 L154.9,217.5 L155.3,229.9 L155.8,229.8 L156.2,235.1 L156.7,237.0 L157.1,234.0 L157.6,233.2 L158.0,234.0 L158.5,229.8 L158.9,233.0 L159.4,228.1 L159.8,229.1 L160.3,227.0 L160.7,227.2 L161.2,224.7 L161.6,224.9 L162.1,227.1 L162.5,228.5 L163.0,230.2 L163.4,231.7 L163.9,235.4 L164.3,234.7 L164.8,233.1 L165.2,235.2 L165.7,230.6 L166.1,234.3 L166.6,230.8 L167.0,225.1 L167.5,233.1 L167.9,227.4 L168.4,216.3 L168.8,217.2 L169.3,214.1 L169.7,206.9 L170.2,207.5 L170.6,212.9 L171.1,217.3 L171.5,219.8 L172.0,228.2 L172.4,224.5 L172.9,229.0 L173.3,226.9 L173.8,227.8 L174.2,225.0 L174.7,223.8 L175.1,229.3 L175.6,242.2 L176.0,253.4 L176.5,251.4 L176.9,251.6 L177.4,248.6 L177.8,254.0 L178.3,253.6 L178.7,249.3 L179.2,250.4 L179.6,248.4 L180.1,253.9 L180.5,251.5 L181.0,250.4 L181.4,251.4 L181.9,251.4 L182.3,249.6 L182.8,247.9 L183.2,247.5 L183.7,246.5 L184.1,251.5 L184.6,255.6 L185.0,246.8 L185.5,245.1 L185.9,239.8 L186.4,234.6 L186.8,236.8 L187.3,233.2 L187.7,237.9 L188.2,232.9 L188.6,233.9 L189.1,234.8 L189.5,231.5 L190.0,227.5 L190.4,231.6 L190.9,236.0 L191.3,235.0 L191.8,237.2 L192.2,235.4 L192.7,239.1 L193.1,241.0 L193.6,237.8 L194.0,240.3 L194.5,233.5 L194.9,229.9 L195.4,226.5 L195.8,224.3 L196.3,216.2 L196.7,212.8 L197.2,210.1 L197.6,213.7 L198.1,211.7 L198.5,208.1 L199.0,209.6 L199.4,211.1 L199.9,205.7 L200.3,211.9 L200.8,211.5 L201.2,211.0 L201.7,208.3 L202.1,209.4 L202.6,206.1 L203.0,208.9 L203.5,207.4 L203.9,209.1 L204.4,207.8 L204.8,209.2 L205.3,211.4 L205.7,205.9 L206.2,210.8 L206.6,204.4 L207.1,203.8 L207.5,208.5 L208.0,208.5 L208.4,209.8 L208.9,205.2 L209.3,208.8 L209.8,209.4 L210.2,212.1 L210.7,209.1 L211.1,210.5 L211.6,207.3 L212.0,209.1 L212.5,208.5 L212.9,216.1 L213.4,223.5 L213.8,234.7 L214.3,249.1 L214.7,257.8 L215.2,254.4 L215.6,254.1 L216.1,252.5 L216.5,255.3 L217.0,240.8 L217.4,233.6 L217.9,230.2 L218.3,227.4 L218.8,228.2 L219.2,229.3 L219.7,226.0 L220.1,231.8 L220.6,230.9 L221.0,226.2 L221.5,233.3 L221.9,230.0 L222.4,227.0 L222.8,230.1 L223.3,229.2 L223.7,227.6 L224.2,224.9 L224.6,229.4 L225.1,230.0 L225.5,223.0 L226.0,226.6 L226.4,220.7 L226.9,216.3 L227.3,211.0 L227.8,210.1 L228.2,214.8 L228.7,221.4 L229.1,230.8 L229.6,227.3 L230.0,232.2 L230.5,233.0 L230.9,232.0 L231.4,233.7 L231.8,232.6 L232.3,234.2 L232.7,235.9 L233.2,236.2 L233.6,232.8 L234.1,240.9 L234.5,232.4 L235.0,234.0 L235.4,232.9 L235.9,232.1 L236.3,235.5 L236.8,231.1 L237.2,235.6 L237.7,235.3 L238.1,231.2 L238.6,236.5 L239.0,233.2 L239.5,241.4 L239.9,234.9 L240.4,234.0 L240.8,232.2 L241.3,234.1 L241.7,236.0 L242.2,232.9 L242.6,224.7 L243.1,218.3 L243.5,211.7 L244.0,212.4 L244.4,204.9 L244.9,207.4 L245.3,206.8 L245.8,205.5 L246.2,206.0 L246.7,207.1 L247.1,211.0 L247.6,208.7 L248.0,208.0 L248.5,211.1 L248.9,210.3 L249.4,209.0 L249.8,205.2 L250.3,207.0 L250.7,210.1 L251.2,209.8 L251.6,207.8 L252.1,205.9 L252.5,212.4 L253.0,209.2 L253.4,215.5 L253.9,207.7 L254.3,212.5 L254.8,208.5 L255.2,210.3 L255.7,211.4 L256.1,207.4 L256.6,209.1 L257.0,209.5 L257.5,209.4 L257.9,210.5 L258.4,211.0 L258.8,210.3 L259.3,208.9 L259.7,207.8 L260.2,206.1 L260.6,206.8 L261.1,207.3 L261.5,210.5 L262.0,208.4 L262.4,206.6 L262.9,210.8 L263.3,207.3 L263.8,207.4 L264.2,208.9 L264.7,210.5 L265.1,203.7 L265.6,206.7 L266.0,204.0 L266.5,208.5 L266.9,207.5 L267.4,208.0 L267.8,212.3 L268.3,208.2 L268.7,210.7 L269.2,210.8 L269.6,207.9 L270.1,210.0 L270.5,207.7 L271.0,207.5 L271.4,206.5 L271.9,211.4 L272.3,208.1 L272.8,207.6 L273.2,211.8 L273.7,212.8 L274.1,210.6 L274.6,203.0 L275.0,207.3 L275.5,205.3 L275.9,217.9 L276.4,229.2 L276.8,225.6 L277.3,232.0 L277.7,234.7 L278.2,227.1 L278.6,228.0 L279.1,228.5 L279.5,230.2 L280.0,229.9 L280.4,226.5 L280.9,233.7 L281.3,231.4 L281.8,233.4 L282.2,233.6 L282.7,230.3 L283.1,231.8 L283.6,232.7 L284.0,233.1 L284.5,231.0 L284.9,236.6 L285.4,243.4 L285.8,247.0 L286.3,247.9 L286.7,244.7 L287.2,249.7 L287.6,247.1 L288.1,248.8 L288.5,249.9 L289.0,250.9 L289.4,248.6 L289.9,238.1 L290.3,232.3 L290.8,236.2 L291.2,235.1 L291.7,237.3 L292.1,235.1 L292.6,235.4 L293.0,236.1 L293.5,238.6 L293.9,233.3 L294.4,236.1 L294.8,237.7 L295.3,240.5 L295.7,236.5 L296.2,235.8 L296.6,237.6 L297.1,236.9 L297.5,239.0 L298.0,236.3 L298.4,234.3 L298.9,236.9 L299.3,236.8 L299.8,231.5 L300.2,232.3 L300.7,227.5 L301.1,229.8 L301.6,226.9 L302.0,227.1 L302.5,225.0 L302.9,224.5 L303.4,223.4 L303.8,223.4 L304.3,222.7 L304.7,221.5 L305.2,220.3 L305.6,226.6 L306.1,227.4 L306.5,223.3 L307.0,225.9 L307.4,219.0 L307.9,207.9 L308.3,207.0 L308.8,211.3 L309.2,205.5 L309.7,206.0 L310.1,211.7 L310.6,204.0 L311.0,209.9 L311.5,209.8 L311.9,208.2 L312.4,209.0 L312.8,214.8 L313.3,206.1 L313.7,208.2 L314.2,208.2 L314.6,207.2 L315.1,205.4 L315.5,212.2 L316.0,209.2 L316.4,204.5 L316.9,207.0 L317.3,209.4 L317.8,209.5 L318.2,205.2 L318.7,208.3 L319.1,209.1 L319.6,203.6 L320.0,209.1 L320.5,204.1 L320.9,212.7 L321.4,208.8 L321.8,212.5 L322.3,215.0 L322.7,202.7 L323.2,205.9 L323.6,210.7 L324.1,208.3 L324.5,207.8 L325.0,206.7 L325.4,213.1 L325.9,208.2 L326.3,205.7 L326.8,207.8 L327.2,212.4 L327.7,229.6 L328.1,229.8 L328.6,228.1 L329.0,232.1 L329.5,229.2 L329.9,232.4 L330.4,223.6 L330.8,209.8 L331.3,209.0 L331.7,210.8 L332.2,212.3 L332.6,210.3 L333.1,210.6 L333.5,210.3 L334.0,211.2 L334.4,212.1 L334.9,209.1 L335.3,209.7 L335.8,211.0 L336.2,209.1 L336.7,211.2 L337.1,212.2 L337.6,210.6 L338.0,209.3 L338.5,208.6 L338.9,214.5 L339.4,212.7 L339.8,208.2 L340.3,208.9 L340.7,215.1 L341.2,214.6 L341.6,211.4 L342.1,215.4 L342.5,221.0 L343.0,232.6 L343.4,235.7 L343.9,230.9 L344.3,234.8 L344.8,239.6 L345.2,241.8 L345.7,239.2 L346.1,242.0 L346.6,243.3 L347.0,237.1 L347.5,230.3 L347.9,234.3 L348.4,232.2 L348.8,234.3 L349.3,232.2 L349.7,232.3 L350.2,241.7 L350.6,237.0 L351.1,241.8 L351.5,244.6 L352.0,247.0 L352.4,244.6 L352.9,244.2 L353.3,241.5 L353.8,237.6 L354.2,239.3 L354.7,238.0 L355.1,236.7 L355.6,236.2 L356.0,239.7 L356.5,252.2 L356.9,260.7 L357.4,254.9 L357.8,261.5 L358.3,261.6 L358.7,255.3 L359.2,255.8 L359.6,245.1 L360.1,231.5 L360.5,226.2 L361.0,230.4 L361.4,231.0 L361.9,228.9 L362.3,229.6 L362.8,227.9 L363.2,228.6 L363.7,226.4 L364.1,228.1 L364.6,226.1 L365.0,228.7 L365.5,229.8 L365.9,229.0 L366.4,230.8 L366.8,234.5 L367.3,223.5 L367.7,228.3 L368.2,227.1 L368.6,227.1 L369.1,225.2 L369.5,228.2 L370.0,227.6 L370.4,226.5 L370.9,227.6 L371.3,226.9 L371.8,222.8 L372.2,230.7 L372.7,227.2 L373.1,223.6 L373.6,216.1 L374.0,207.9 L374.5,204.5 L374.9,211.6 L375.4,205.9 L375.8,209.3 L376.3,210.0 L376.7,212.8 L377.2,212.1 L377.6,209.6 L378.1,207.2 L378.5,207.8 L379.0,211.1 L379.4,215.2 L379.9,210.0 L380.3,207.0 L380.8,211.1 L381.2,207.9 L381.7,208.0 L382.1,208.3 L382.6,210.3 L383.0,209.5 L383.5,209.7 L383.9,211.8 L384.4,209.9 L384.8,203.1 L385.3,204.4 L385.7,208.7 L386.2,208.4 L386.6,213.5 L387.1,208.0 L387.5,207.9 L388.0,210.4 L388.4,210.9 L388.9,208.1 L389.3,209.8 L389.8,206.0 L390.2,206.5 L390.7,211.8 L391.1,205.6 L391.6,211.0 L392.0,215.5 L392.5,210.6 L392.9,210.9 L393.4,210.1 L393.8,204.0 L394.3,206.7 L394.7,207.9 L395.2,211.4 L395.6,206.6 L396.1,207.7 L396.5,211.6 L397.0,212.4 L397.4,206.0 L397.9,206.4 L398.3,211.0 L398.8,204.4 L399.2,210.0 L399.7,208.2 L400.1,205.6 L400.6,208.0 L401.0,206.7 L401.5,209.2 L401.9,209.5 L402.4,212.4 L402.8,209.0 L403.3,209.1 L403.7,207.8 L404.2,209.1 L404.6,211.5 L405.1,205.5 L405.5,220.4 L406.0,221.4 L406.4,223.1 L406.9,223.8 L407.3,225.3 L407.8,224.3 L408.2,223.0 L408.7,225.1 L409.1,224.8 L409.6,225.0 L410.0,230.1 L410.5,228.2 L410.9,226.8 L411.4,226.9 L411.8,223.8 L412.3,226.7 L412.7,222.9 L413.2,228.8 L413.6,224.9 L414.1,230.2 L414.5,233.7 L415.0,226.8 L415.4,230.7 L415.9,228.6 L416.3,226.4 L416.8,225.9 L417.2,229.2 L417.7,231.1 L418.1,228.5 L418.6,224.1 L419.0,227.8 L419.5,227.4 L419.9,231.1 L420.4,228.5 L420.8,228.6 L421.3,230.7 L421.7,227.7 L422.2,228.1 L422.6,219.3 L423.1,204.1 L423.5,209.2 L424.0,209.3 L424.4,210.6 L424.9,205.6 L425.3,206.5 L425.8,210.5 L426.2,208.8 L426.7,211.5 L427.1,206.3 L427.6,208.7 L428.0,206.7 L428.5,209.0 L428.9,207.1 L429.4,209.3 L429.8,210.7 L430.3,209.5 L430.7,203.7 L431.2,209.9 L431.6,208.7 L432.1,205.3 L432.5,205.7 L433.0,207.9 L433.4,209.1 L433.9,206.8 L434.3,204.0 L434.8,208.7 L435.2,208.4 L435.7,213.3 L436.1,204.7 L436.6,213.5 L437.0,211.7 L437.5,208.3 L437.9,211.4 L438.4,207.8 L438.8,209.9 L439.3,206.1 L439.7,208.1 L440.2,205.5 L440.6,204.2 L441.1,207.4 L441.5,206.7 L442.0,209.6 L442.4,211.0 L442.9,207.8 L443.3,207.9 L443.8,208.3 L444.2,204.1 L444.7,208.4 L445.1,207.7 L445.6,207.5 L446.0,205.4 L446.5,203.4 L446.9,207.5 L447.4,208.7 L447.8,211.2 L448.3,210.6 L448.7,212.7 L449.2,209.3 L449.6,211.1 L450.1,208.0 L450.5,209.8 L451.0,210.4 L451.4,214.3 L451.9,208.7 L452.3,204.7 L452.8,210.7 L453.2,205.8 L453.7,207.7 L454.1,207.1 L454.6,206.0 L455.0,211.3 L455.5,209.7 L455.9,206.9 L456.4,208.8 L456.8,207.4 L457.3,209.4 L457.7,207.5 L458.2,206.4 L458.6,206.8 L459.1,207.2 L459.5,208.6 L460.0,205.7 L460.4,214.5 L460.9,223.6 L461.3,230.8 L461.8,228.0 L462.2,220.2 L462.7,225.8 L463.1,227.1 L463.6,229.2 L464.0,232.5 L464.5,231.0 L464.9,224.5 L465.4,231.4 L465.8,231.3 L466.3,237.8 L466.7,249.2 L467.2,250.2 L467.6,255.1 L468.1,249.0 L468.5,253.1 L469.0,254.0 L469.4,258.3 L469.9,251.3 L470.3,249.1 L470.8,254.7 L471.2,251.6 L471.7,256.8 L472.1,251.4 L472.6,250.6 L473.0,255.4 L473.5,252.9 L473.9,255.1 L474.4,249.3 L474.8,256.3 L475.3,248.2 L475.7,246.7 L476.2,237.8 L476.6,231.8 L477.1,230.7 L477.5,232.2 L478.0,236.1 L478.4,234.7 L478.9,236.5 L479.3,237.1 L479.8,243.9 L480.2,247.4 L480.7,264.2 L481.1,256.1 L481.6,250.0 L482.0,240.9 L482.5,245.1 L482.9,239.6 L483.4,239.7 L483.8,242.6 L484.3,240.5 L484.7,244.9 L485.2,246.1 L485.6,242.2 L486.1,249.9 L486.5,236.5 L487.0,233.0 L487.4,228.1 L487.9,231.8 L488.3,227.9 L488.8,226.0 L489.2,226.4 L489.7,231.5 L490.1,225.6 L490.6,228.4 L491.0,228.9 L491.5,224.5 L491.9,231.0 L492.4,241.0 L492.8,245.9 L493.3,249.8 L493.7,254.2 L494.2,253.8 L494.6,257.2 L495.1,250.5 L495.5,251.1 L496.0,251.9 L496.4,251.5 L496.9,252.0 L497.3,251.4 L497.8,250.0 L498.2,247.8 L498.7,250.2 L499.1,248.3 L499.6,248.9 L500.0,250.0 L500.5,252.4 L500.9,253.2 L501.4,248.9 L501.8,251.7 L502.3,252.9 L502.7,250.8 L503.2,247.0 L503.6,245.1 L504.1,251.5 L504.5,250.2 L505.0,249.3 L505.4,246.0 L505.9,251.1 L506.3,250.4 L506.8,247.1 L507.2,246.5 L507.7,242.5 L508.1,248.4 L508.6,248.5 L509.0,248.3 L509.5,248.6 L509.9,246.9 L510.4,251.0 L510.8,246.0 L511.3,248.1 L511.7,248.8 L512.2,247.7 L512.6,246.1 L513.1,249.9 L513.5,248.0 L514.0,246.6 L514.4,246.6 L514.9,247.7 L515.3,252.7 L515.8,247.8 L516.2,247.0 L516.7,245.1 L517.1,244.6 L517.6,243.2 L518.0,247.8 L518.5,247.2 L518.9,244.7 L519.4,243.8 L519.8,246.2 L520.3,251.9 L520.7,244.9 L521.2,248.9 L521.6,249.3 L522.1,249.0 L522.5,251.1 L523.0,247.8 L523.4,252.6 L523.9,247.5 L524.3,251.3 L524.8,251.6 L525.2,249.6 L525.7,250.9 L526.1,247.6 L526.6,247.4 L527.0,250.9 L527.5,249.9 L527.9,253.1 L528.4,252.1 L528.8,253.6 L529.3,253.3 L529.7,252.9 L530.2,253.1 L530.6,252.1 L531.1,252.0 L531.5,258.0 L532.0,249.4 L532.4,253.3 L532.9,256.2 L533.3,255.2 L533.8,253.7 L534.2,244.9 L534.7,234.1 L535.1,229.5 L535.6,220.3 L536.0,222.0 L536.5,223.5 L536.9,219.7 L537.4,222.2 L537.8,220.4 L538.3,218.5 L538.7,221.0 L539.2,219.0 L539.6,221.8 L540.1,224.0 L540.5,220.7 L541.0,212.4 L541.4,207.4 L541.9,208.7 L542.3,209.4 L542.8,209.2 L543.2,201.5 L543.7,206.2 L544.1,209.9 L544.6,205.6 L545.0,208.8 L545.5,210.3 L545.9,204.0 L546.4,208.2 L546.8,209.3 L547.3,208.5 L547.7,204.6 L548.2,208.8 L548.6,206.7 L549.1,209.7 L549.5,208.5 L550.0,206.2 L550.4,207.5 L550.9,205.7 L551.3,206.0 L551.8,204.3 L552.2,207.4 L552.7,209.9 L553.1,208.2 L553.6,208.1 L554.0,206.8 L554.5,206.9 L554.9,209.9 L555.4,204.5 L555.8,212.6 L556.3,207.6 L556.7,213.0 L557.2,210.7 L557.6,207.4 L558.1,209.9 L558.5,208.7 L559.0,213.8 L559.4,210.1 L559.9,207.2 L560.3,206.9 L560.8,207.0 L561.2,204.5 L561.7,207.1 L562.1,208.3 L562.6,208.2 L563.0,208.1 L563.5,206.5 L563.9,209.3 L564.4,202.9 L564.8,206.7 L565.3,206.7 L565.7,210.3 L566.2,209.0 L566.6,209.4 L567.1,207.7 L567.5,209.9 L568.0,205.3 L568.4,207.8 L568.9,202.9 L569.3,211.4 L569.8,211.2 L570.2,206.0 L570.7,205.6 L571.1,202.7 L571.6,204.1 L572.0,207.9 L572.5,207.0 L572.9,204.0 L573.4,206.3 L573.8,206.1 L574.3,208.6 L574.7,209.1 L575.2,206.8 L575.6,207.9 L576.1,207.8 L576.5,203.2 L577.0,208.2 L577.4,207.4 L577.9,209.3 L578.3,203.5 L578.8,209.5 L579.2,206.2 L579.7,208.1 L580.1,210.3 L580.6,204.4 L581.0,205.1 L581.5,210.5 L581.9,205.4 L582.4,206.0 L582.8,209.5 L583.3,207.8 L583.7,210.0 L584.2,208.8 L584.6,207.8 L585.1,209.8 L585.5,212.7 L586.0,207.4 L586.4,211.2 L586.9,210.5 L587.3,208.1 L587.8,208.9 L588.2,205.7 L588.7,206.7 L589.1,208.7 L589.6,207.8 L590.0,210.8 L590.5,204.5 L590.9,206.8 L591.4,205.8 L591.8,207.0 L592.3,209.9 L592.7,204.4 L593.2,209.2 L593.6,205.6 L594.1,206.4 L594.5,209.6 L595.0,206.8 L595.4,209.2 L595.9,210.5 L596.3,207.3 L596.8,206.8 L597.2,203.9 L597.7,206.1 L598.1,208.3 L598.6,208.1 L599.0,204.0 L599.5,209.8 L599.9,208.7 L600.4,204.5 L600.8,205.0 L601.3,208.5 L601.7,202.9 L602.2,205.5 L602.6,207.1 L603.1,206.9 L603.5,207.2 L604.0,208.1 L604.4,220.1 L604.9,228.0 L605.3,233.7 L605.8,225.3 L606.2,227.2 L606.7,228.0 L607.1,224.6 L607.6,222.2 L608.0,212.9 L608.5,218.1 L608.9,214.3 L609.4,227.0 L609.8,230.7 L610.3,228.0 L610.7,232.5 L611.2,230.2 L611.6,231.7 L612.1,233.7 L612.5,229.7 L613.0,227.2 L613.4,229.6 L613.9,226.8 L614.3,228.0 L614.8,228.3 L615.2,228.4 L615.7,233.1 L616.1,232.7 L616.6,228.9 L617.0,233.0 L617.5,224.2 L617.9,228.9 L618.4,230.2 L618.8,233.3 L619.3,232.3 L619.7,231.6 L620.2,233.9 L620.6,232.6 L621.1,234.2 L621.5,229.5 L622.0,227.5 L622.4,230.6 L622.9,233.4 L623.3,220.1 L623.8,213.5 L624.2,224.9 L624.7,232.3 L625.1,233.0 L625.6,229.2 L626.0,233.1 L626.5,228.1 L626.9,230.2 L627.4,226.9 L627.8,231.6 L628.3,227.0 L628.7,233.7 L629.2,227.5 L629.6,231.5 L630.1,230.5 L630.5,228.8 L631.0,223.7 L631.4,218.2 L631.9,232.1 L632.3,229.6 L632.8,230.0 L633.2,227.3 L633.7,233.2 L634.1,233.8 L634.6,221.5 L635.0,207.2 L635.5,205.4 L635.9,211.4 L636.4,209.2 L636.8,203.0 L637.3,206.5 L637.7,201.5 L638.2,211.0 L638.6,212.1 L639.1,210.9 L639.5,207.4 L640.0,206.2 L640.4,204.5 L640.9,209.0 L641.3,206.4 L641.8,207.5 L642.2,206.8 L642.7,207.3 L643.1,210.1 L643.6,212.1 L644.0,208.7 L644.5,208.5 L644.9,205.9 L645.4,205.4 L645.8,205.8 L646.3,210.6 L646.7,209.2 L647.2,210.8 L647.6,209.3 L648.1,207.1 L648.5,205.2 L649.0,207.4 L649.4,206.3 L649.9,220.3 L650.3,222.6 L650.8,224.4 L651.2,233.3 L651.7,228.0 L652.1,230.1 L652.6,237.0 L653.0,254.0 L653.5,253.6 L653.9,257.0 L654.4,260.5 L654.8,256.3 L655.3,255.6 L655.7,265.3 L656.2,263.2 L656.6,262.7 L657.1,257.6 L657.5,259.2 L658.0,256.8 L658.4,247.2 L658.9,239.8 L659.3,225.1 L659.8,217.1 L660.2,219.4 L660.7,220.4 L661.1,215.2 L661.6,215.2 L662.0,220.2 L662.5,217.0 L662.9,217.2 L663.4,212.6 L663.8,216.9 L664.3,227.4 L664.7,230.1 L665.2,230.0 L665.6,233.2 L666.1,229.8 L666.5,225.7 L667.0,227.6 L667.4,229.8 L667.9,232.9 L668.3,228.5 L668.8,229.3 L669.2,230.3 L669.7,228.7 L670.1,228.3 L670.6,229.6 L671.0,232.2 L671.5,231.0 L671.9,229.2 L672.4,230.7 L672.8,226.8 L673.3,232.1 L673.7,231.8 L674.2,230.7 L674.6,226.3 L675.1,235.0 L675.5,224.2 L676.0,228.3 L676.4,228.4 L676.9,232.4 L677.3,227.4 L677.8,231.6 L678.2,230.6 L678.7,230.4 L679.1,233.1 L679.6,234.6 L680.0,232.4 L680.5,230.5 L680.9,225.8 L681.4,234.4 L681.8,230.3 L682.3,226.5 L682.7,230.9 L683.2,233.6 L683.6,230.0 L684.1,227.5 L684.5,235.6 L685.0,231.9 L685.4,231.3 L685.9,232.9 L686.3,225.6 L686.8,230.7 L687.2,230.6 L687.7,236.2 L688.1,229.7 L688.6,229.8 L689.0,228.0 L689.5,229.7 L689.9,231.4 L690.4,232.5 L690.8,231.5 L691.3,237.0 L691.7,233.5 L692.2,233.7 L692.6,235.4 L693.1,233.4 L693.5,230.4 L694.0,228.2 L694.4,232.7 L694.9,229.8 L695.3,234.9 L695.8,227.8 L696.2,221.1 L696.7,223.5 L697.1,222.8 L697.6,216.5 L698.0,212.8 L698.5,211.4 L698.9,212.5 L699.4,209.0 L699.8,208.4 L700.3,206.9 L700.7,204.6 L701.2,211.8 L701.6,210.9 L702.1,206.0 L702.5,209.7 L703.0,209.0 L703.4,207.6 L703.9,207.8 L704.3,210.5 L704.8,206.1 L705.2,208.0 L705.7,208.8 L706.1,209.1 L706.6,208.5 L707.0,209.2 L707.5,210.0 L707.9,206.5 L708.4,208.9 L708.8,205.8 L709.3,211.9 L709.7,205.0 L710.2,207.9 L710.6,210.3 L711.1,207.8 L711.5,207.6 L712.0,207.0 L712.4,209.1 L712.9,205.9 L713.3,208.6 L713.8,208.4 L714.2,205.1 L714.7,209.4 L715.1,207.9 L715.6,209.7 L716.0,210.9 L716.5,209.6 L716.9,206.0 L717.4,209.5 L717.8,205.0 L718.3,203.9 L718.7,212.7 L719.2,208.6 L719.6,212.2 L720.1,208.0 L720.5,208.6 L721.0,208.1 L721.4,211.1 L721.9,208.3 L722.3,209.8 L722.8,209.5 L723.2,209.7 L723.7,209.2 L724.1,210.0 L724.6,208.4 L725.0,206.5 L725.5,203.3 L725.9,209.4 L726.4,213.3 L726.8,222.1 L727.3,230.8 L727.7,232.3 L728.2,229.0 L728.6,229.0 L729.1,233.0 L729.5,232.4 L730.0,231.3 L730.4,233.6 L730.9,229.8 L731.3,233.1 L731.8,231.2 L732.2,232.5 L732.7,234.9 L733.1,231.7 L733.6,235.3 L734.0,235.1 L734.5,230.2 L734.9,237.2 L735.4,228.9 L735.8,231.6 L736.3,233.8 L736.7,227.1 L737.2,234.9 L737.6,235.1 L738.1,232.3 L738.5,233.4 L739.0,233.2 L739.4,237.7 L739.9,246.7 L740.3,249.5 L740.8,252.9 L741.2,253.9 L741.7,254.9 L742.1,255.3 L742.6,249.2 L743.0,248.2 L743.5,230.0 L743.9,238.3 L744.4,247.5 L744.8,254.9 L745.3,255.9 L745.7,255.7 L746.2,258.9 L746.6,252.3 L747.1,255.1 L747.5,259.5 L748.0,256.8 L748.4,252.3 L748.9,255.4 L749.3,257.5 L749.8,259.6 L750.2,256.7 L750.7,254.3 L751.1,238.1 L751.6,230.5 L752.0,234.4 L752.5,229.4 L752.9,231.6 L753.4,227.3 L753.8,235.1 L754.3,231.0 L754.7,232.8 L755.2,228.1 L755.6,228.4 L756.1,235.6 L756.5,230.6 L757.0,230.1 L757.4,232.4 L757.9,232.5 L758.3,226.4 L758.8,228.7 L759.2,231.0 L759.7,230.8 L760.1,231.7 L760.6,229.9 L761.0,230.2 L761.5,231.6 L761.9,229.7 L762.4,229.4 L762.8,230.5 L763.3,231.9 L763.7,231.8 L764.2,231.1 L764.6,231.8 L765.1,232.0 L765.5,232.6 L766.0,232.5 L766.4,228.4 L766.9,233.7 L767.3,227.7" fill="none" stroke="#111" stroke-width="1.65" stroke-linejoin="round"/>
<path d="M40.3,371.5 L40.8,373.1 L41.2,392.2 L41.7,398.3 L42.1,398.7 L42.6,399.3 L43.0,395.2 L43.5,399.3 L43.9,398.2 L44.4,405.8 L44.8,400.9 L45.3,399.4 L45.7,399.8 L46.2,399.0 L46.6,398.1 L47.1,399.9 L47.5,401.8 L48.0,400.2 L48.4,402.8 L48.9,400.2 L49.3,400.3 L49.8,403.5 L50.2,401.2 L50.7,398.7 L51.1,399.5 L51.6,401.3 L52.0,400.2 L52.5,390.2 L52.9,385.3 L53.4,386.3 L53.8,380.7 L54.3,380.8 L54.7,382.2 L55.2,380.1 L55.6,373.2 L56.1,363.1 L56.5,351.4 L57.0,360.0 L57.4,355.1 L57.9,353.3 L58.3,357.3 L58.8,364.2 L59.2,369.6 L59.7,373.7 L60.1,376.3 L60.6,376.2 L61.0,379.7 L61.5,378.2 L61.9,377.3 L62.4,379.5 L62.8,376.3 L63.3,374.6 L63.7,377.9 L64.2,377.5 L64.6,375.3 L65.1,374.2 L65.5,376.4 L66.0,370.1 L66.4,377.3 L66.9,377.0 L67.3,372.0 L67.8,376.4 L68.2,374.2 L68.7,377.8 L69.1,370.9 L69.6,373.7 L70.0,377.5 L70.5,378.6 L70.9,371.0 L71.4,373.8 L71.8,368.4 L72.3,369.2 L72.7,385.8 L73.2,390.5 L73.6,402.7 L74.1,399.4 L74.5,405.4 L75.0,402.4 L75.4,401.8 L75.9,398.8 L76.3,406.6 L76.8,404.2 L77.2,404.2 L77.7,405.4 L78.1,403.5 L78.6,401.2 L79.0,401.0 L79.5,400.9 L79.9,406.0 L80.4,399.9 L80.8,405.1 L81.3,408.8 L81.7,413.4 L82.2,417.6 L82.6,414.9 L83.1,409.5 L83.5,408.8 L84.0,407.6 L84.4,402.2 L84.9,388.6 L85.3,382.1 L85.8,377.3 L86.2,376.6 L86.7,378.4 L87.1,374.9 L87.6,376.9 L88.0,379.3 L88.5,378.0 L88.9,377.4 L89.4,382.7 L89.8,391.5 L90.3,402.6 L90.7,394.4 L91.2,398.3 L91.6,397.7 L92.1,400.3 L92.5,393.8 L93.0,402.1 L93.4,401.7 L93.9,396.3 L94.3,391.9 L94.8,384.4 L95.2,378.4 L95.7,371.7 L96.1,366.7 L96.6,356.9 L97.0,355.9 L97.5,354.2 L97.9,357.9 L98.4,355.6 L98.8,357.2 L99.3,351.6 L99.7,353.7 L100.2,352.4 L100.6,357.6 L101.1,355.9 L101.5,353.7 L102.0,353.2 L102.4,355.3 L102.9,352.8 L103.3,352.2 L103.8,355.4 L104.2,360.3 L104.7,354.2 L105.1,353.7 L105.6,360.3 L106.0,374.2 L106.5,378.4 L106.9,379.6 L107.4,377.7 L107.8,378.2 L108.3,377.7 L108.7,377.6 L109.2,373.8 L109.6,376.1 L110.1,377.5 L110.5,375.4 L111.0,376.3 L111.4,375.6 L111.9,377.1 L112.3,379.8 L112.8,376.9 L113.2,377.5 L113.7,378.8 L114.1,368.4 L114.6,360.7 L115.0,351.0 L115.5,367.2 L115.9,373.8 L116.4,377.3 L116.8,379.1 L117.3,379.7 L117.7,379.9 L118.2,377.8 L118.6,381.0 L119.1,376.3 L119.5,370.9 L120.0,379.0 L120.4,376.0 L120.9,382.0 L121.3,379.3 L121.8,382.2 L122.2,377.2 L122.7,376.7 L123.1,378.1 L123.6,379.1 L124.0,376.1 L124.5,378.4 L124.9,377.5 L125.4,381.1 L125.8,379.1 L126.3,397.8 L126.7,398.9 L127.2,398.2 L127.6,398.8 L128.1,397.7 L128.5,401.2 L129.0,403.6 L129.4,404.3 L129.9,389.4 L130.3,378.3 L130.8,375.3 L131.2,375.1 L131.7,374.1 L132.1,370.8 L132.6,375.8 L133.0,370.1 L133.5,384.2 L133.9,397.5 L134.4,403.4 L134.8,400.7 L135.3,398.9 L135.7,401.6 L136.2,399.6 L136.6,400.2 L137.1,400.5 L137.5,400.2 L138.0,395.0 L138.4,377.5 L138.9,375.5 L139.3,371.1 L139.8,375.9 L140.2,373.9 L140.7,379.3 L141.1,379.7 L141.6,371.8 L142.0,376.5 L142.5,379.8 L142.9,373.7 L143.4,377.3 L143.8,374.6 L144.3,367.3 L144.7,363.5 L145.2,362.9 L145.6,360.4 L146.1,357.2 L146.5,361.4 L147.0,361.5 L147.4,357.4 L147.9,363.9 L148.3,369.2 L148.8,373.6 L149.2,378.6 L149.7,380.7 L150.1,372.7 L150.6,373.4 L151.0,375.1 L151.5,380.5 L151.9,374.8 L152.4,375.3 L152.8,376.1 L153.3,374.9 L153.7,380.2 L154.2,364.0 L154.6,357.3 L155.1,355.9 L155.5,357.0 L156.0,353.1 L156.4,359.7 L156.9,355.5 L157.3,355.5 L157.8,353.1 L158.2,349.7 L158.7,356.7 L159.1,357.8 L159.6,357.4 L160.0,363.1 L160.5,371.9 L160.9,374.0 L161.4,376.2 L161.8,375.9 L162.3,374.0 L162.7,376.1 L163.2,377.2 L163.6,375.1 L164.1,373.9 L164.5,378.4 L165.0,379.1 L165.4,374.4 L165.9,380.4 L166.3,369.4 L166.8,378.0 L167.2,371.0 L167.7,376.3 L168.1,378.2 L168.6,373.8 L169.0,379.1 L169.5,377.2 L169.9,374.5 L170.4,376.4 L170.8,372.8 L171.3,376.5 L171.7,395.4 L172.2,398.0 L172.6,404.4 L173.1,399.7 L173.5,402.1 L174.0,399.8 L174.4,394.2 L174.9,398.1 L175.3,399.8 L175.8,397.1 L176.2,396.6 L176.7,400.7 L177.1,398.7 L177.6,396.4 L178.0,399.0 L178.5,402.4 L178.9,399.2 L179.4,402.3 L179.8,403.5 L180.3,400.0 L180.7,397.4 L181.2,394.1 L181.6,399.8 L182.1,401.9 L182.5,400.8 L183.0,401.5 L183.4,399.2 L183.9,401.1 L184.3,399.1 L184.8,394.4 L185.2,397.3 L185.7,402.5 L186.1,399.6 L186.6,398.2 L187.0,398.8 L187.5,395.7 L187.9,387.3 L188.4,386.8 L188.8,380.1 L189.3,375.7 L189.7,378.2 L190.2,376.3 L190.6,373.2 L191.1,373.8 L191.5,364.1 L192.0,353.7 L192.4,357.8 L192.9,354.4 L193.3,358.9 L193.8,354.3 L194.2,353.1 L194.7,359.3 L195.1,353.0 L195.6,356.4 L196.0,359.4 L196.5,356.4 L196.9,355.9 L197.4,355.9 L197.8,357.5 L198.3,353.8 L198.7,356.9 L199.2,356.4 L199.6,360.2 L200.1,357.6 L200.5,367.2 L201.0,367.6 L201.4,356.7 L201.9,361.5 L202.3,367.5 L202.8,376.0 L203.2,374.4 L203.7,375.8 L204.1,370.1 L204.6,374.0 L205.0,379.6 L205.5,374.5 L205.9,374.5 L206.4,373.8 L206.8,377.7 L207.3,376.7 L207.7,373.5 L208.2,377.6 L208.6,377.0 L209.1,378.1 L209.5,374.9 L210.0,380.2 L210.4,377.2 L210.9,375.9 L211.3,374.9 L211.8,375.8 L212.2,378.1 L212.7,375.4 L213.1,378.8 L213.6,377.6 L214.0,379.4 L214.5,378.2 L214.9,376.4 L215.4,372.3 L215.8,377.3 L216.3,382.1 L216.7,377.2 L217.2,378.2 L217.6,375.9 L218.1,376.1 L218.5,374.8 L219.0,379.8 L219.4,376.9 L219.9,375.3 L220.3,373.3 L220.8,376.0 L221.2,379.8 L221.7,377.6 L222.1,374.9 L222.6,380.1 L223.0,380.4 L223.5,379.4 L223.9,379.2 L224.4,380.0 L224.8,378.5 L225.3,379.0 L225.7,374.5 L226.2,376.5 L226.6,370.3 L227.1,372.2 L227.5,370.9 L228.0,385.4 L228.4,398.0 L228.9,394.8 L229.3,396.8 L229.8,397.5 L230.2,397.1 L230.7,394.6 L231.1,395.5 L231.6,398.0 L232.0,398.3 L232.5,395.5 L232.9,395.3 L233.4,395.5 L233.8,396.1 L234.3,392.6 L234.7,391.9 L235.2,395.3 L235.6,392.3 L236.1,393.4 L236.5,395.0 L237.0,395.8 L237.4,391.9 L237.9,396.2 L238.3,390.2 L238.8,395.2 L239.2,390.6 L239.7,391.1 L240.1,395.4 L240.6,392.9 L241.0,392.1 L241.5,392.8 L241.9,394.8 L242.4,393.6 L242.8,390.6 L243.3,395.9 L243.7,391.9 L244.2,392.5 L244.6,392.3 L245.1,396.0 L245.5,395.6 L246.0,396.2 L246.4,393.1 L246.9,393.0 L247.3,394.8 L247.8,391.6 L248.2,394.3 L248.7,393.9 L249.1,390.6 L249.6,391.8 L250.0,391.8 L250.5,395.9 L250.9,398.3 L251.4,392.4 L251.8,392.8 L252.3,387.7 L252.7,393.6 L253.2,393.1 L253.6,390.5 L254.1,394.5 L254.5,388.7 L255.0,391.7 L255.4,391.9 L255.9,388.5 L256.3,393.0 L256.8,393.3 L257.2,387.6 L257.7,387.5 L258.1,392.1 L258.6,390.2 L259.0,387.6 L259.5,389.6 L259.9,389.8 L260.4,389.6 L260.8,391.6 L261.3,390.6 L261.7,393.4 L262.2,392.7 L262.6,391.0 L263.1,380.0 L263.5,374.1 L264.0,372.6 L264.4,368.3 L264.9,373.2 L265.3,371.7 L265.8,375.1 L266.2,371.5 L266.7,372.6 L267.1,372.3 L267.6,375.6 L268.0,372.1 L268.5,370.9 L268.9,372.2 L269.4,370.4 L269.8,371.9 L270.3,371.5 L270.7,372.1 L271.2,375.5 L271.6,370.0 L272.1,371.1 L272.5,370.3 L273.0,372.7 L273.4,368.5 L273.9,369.5 L274.3,370.9 L274.8,372.5 L275.2,371.4 L275.7,370.4 L276.1,369.7 L276.6,372.7 L277.0,374.7 L277.5,372.4 L277.9,372.3 L278.4,372.4 L278.8,376.0 L279.3,392.8 L279.7,398.2 L280.2,399.6 L280.6,399.1 L281.1,396.4 L281.5,401.7 L282.0,403.2 L282.4,398.9 L282.9,400.9 L283.3,400.4 L283.8,401.6 L284.2,388.2 L284.7,379.3 L285.1,374.6 L285.6,373.0 L286.0,375.6 L286.5,374.3 L286.9,374.9 L287.4,377.1 L287.8,373.1 L288.3,374.1 L288.7,374.0 L289.2,371.3 L289.6,378.4 L290.1,376.6 L290.5,375.4 L291.0,378.3 L291.4,373.2 L291.9,375.1 L292.3,378.9 L292.8,376.9 L293.2,369.4 L293.7,368.5 L294.1,372.2 L294.6,376.7 L295.0,373.3 L295.5,374.0 L295.9,375.9 L296.4,372.7 L296.8,375.3 L297.3,376.8 L297.7,378.2 L298.2,376.0 L298.6,373.8 L299.1,376.4 L299.5,374.2 L300.0,382.8 L300.4,400.0 L300.9,395.4 L301.3,392.2 L301.8,399.2 L302.2,398.0 L302.7,399.4 L303.1,388.1 L303.6,368.4 L304.0,368.8 L304.5,374.0 L304.9,369.4 L305.4,377.5 L305.8,378.0 L306.3,384.0 L306.7,387.7 L307.2,388.8 L307.6,390.9 L308.1,389.0 L308.5,393.5 L309.0,394.6 L309.4,397.6 L309.9,401.8 L310.3,399.9 L310.8,399.8 L311.2,400.5 L311.7,401.9 L312.1,405.4 L312.6,402.6 L313.0,407.4 L313.5,405.3 L313.9,395.9 L314.4,385.3 L314.8,381.4 L315.3,378.6 L315.7,372.5 L316.2,378.5 L316.6,379.2 L317.1,375.4 L317.5,375.4 L318.0,379.4 L318.4,376.0 L318.9,370.8 L319.3,372.4 L319.8,377.5 L320.2,384.8 L320.7,386.9 L321.1,398.3 L321.6,388.2 L322.0,383.0 L322.5,388.4 L322.9,396.6 L323.4,398.0 L323.8,396.6 L324.3,399.6 L324.7,401.6 L325.2,397.8 L325.6,399.3 L326.1,398.9 L326.5,397.1 L327.0,401.7 L327.4,396.6 L327.9,400.8 L328.3,397.3 L328.8,399.1 L329.2,395.2 L329.7,399.9 L330.1,400.3 L330.6,398.3 L331.0,398.0 L331.5,396.9 L331.9,399.0 L332.4,394.8 L332.8,395.9 L333.3,398.2 L333.7,396.8 L334.2,397.2 L334.6,398.7 L335.1,398.9 L335.5,401.7 L336.0,409.3 L336.4,410.5 L336.9,414.1 L337.3,413.8 L337.8,411.5 L338.2,404.9 L338.7,402.9 L339.1,395.3 L339.6,398.4 L340.0,401.6 L340.5,406.4 L340.9,401.8 L341.4,397.7 L341.8,400.8 L342.3,398.0 L342.7,401.6 L343.2,399.6 L343.6,401.6 L344.1,405.5 L344.5,401.8 L345.0,404.9 L345.4,399.0 L345.9,398.3 L346.3,402.2 L346.8,403.1 L347.2,397.8 L347.7,398.2 L348.1,395.9 L348.6,398.6 L349.0,400.8 L349.5,398.7 L349.9,397.6 L350.4,395.6 L350.8,399.9 L351.3,401.0 L351.7,400.2 L352.2,399.4 L352.6,396.3 L353.1,401.9 L353.5,399.1 L354.0,399.1 L354.4,400.7 L354.9,394.0 L355.3,399.1 L355.8,397.0 L356.2,380.7 L356.7,375.3 L357.1,373.2 L357.6,367.6 L358.0,371.1 L358.5,366.8 L358.9,372.0 L359.4,368.7 L359.8,368.1 L360.3,372.9 L360.7,372.3 L361.2,371.6 L361.6,367.5 L362.1,375.5 L362.5,367.2 L363.0,370.6 L363.4,375.9 L363.9,371.0 L364.3,372.1 L364.8,368.8 L365.2,375.0 L365.7,368.9 L366.1,372.5 L366.6,372.3 L367.0,370.0 L367.5,374.4 L367.9,369.0 L368.4,370.7 L368.8,372.2 L369.3,371.2 L369.7,380.5 L370.2,390.2 L370.6,395.3 L371.1,398.4 L371.5,398.6 L372.0,399.1 L372.4,401.7 L372.9,399.7 L373.3,401.2 L373.8,400.1 L374.2,398.6 L374.7,402.5 L375.1,396.5 L375.6,400.4 L376.0,403.8 L376.5,398.0 L376.9,400.4 L377.4,396.8 L377.8,399.2 L378.3,393.6 L378.7,397.4 L379.2,398.6 L379.6,400.3 L380.1,403.6 L380.5,400.7 L381.0,401.3 L381.4,399.6 L381.9,399.4 L382.3,398.2 L382.8,395.7 L383.2,400.1 L383.7,403.6 L384.1,401.2 L384.6,398.8 L385.0,404.0 L385.5,399.2 L385.9,398.6 L386.4,397.4 L386.8,397.7 L387.3,398.4 L387.7,404.2 L388.2,399.4 L388.6,397.5 L389.1,398.3 L389.5,399.4 L390.0,396.1 L390.4,400.5 L390.9,401.9 L391.3,400.9 L391.8,401.5 L392.2,393.2 L392.7,383.6 L393.1,381.7 L393.6,372.4 L394.0,357.4 L394.5,353.3 L394.9,352.9 L395.4,354.0 L395.8,353.2 L396.3,351.4 L396.7,353.2 L397.2,353.2 L397.6,352.6 L398.1,348.5 L398.5,346.5 L399.0,350.8 L399.4,349.0 L399.9,353.5 L400.3,357.5 L400.8,353.2 L401.2,351.7 L401.7,352.8 L402.1,355.1 L402.6,351.1 L403.0,355.0 L403.5,354.4 L403.9,353.6 L404.4,356.2 L404.8,350.9 L405.3,355.1 L405.7,350.7 L406.2,350.9 L406.6,350.0 L407.1,353.3 L407.5,350.0 L408.0,352.2 L408.4,349.5 L408.9,354.9 L409.3,356.9 L409.8,353.4 L410.2,356.8 L410.7,354.6 L411.1,358.2 L411.6,353.7 L412.0,350.0 L412.5,356.8 L412.9,352.9 L413.4,350.9 L413.8,351.6 L414.3,349.2 L414.7,352.8 L415.2,350.6 L415.6,356.2 L416.1,354.2 L416.5,349.0 L417.0,349.3 L417.4,351.6 L417.9,348.4 L418.3,346.9 L418.8,352.6 L419.2,351.2 L419.7,351.8 L420.1,354.2 L420.6,356.2 L421.0,356.4 L421.5,353.4 L421.9,355.2 L422.4,351.5 L422.8,354.0 L423.3,350.6 L423.7,354.4 L424.2,350.1 L424.6,350.8 L425.1,352.8 L425.5,359.5 L426.0,366.3 L426.4,369.8 L426.9,371.6 L427.3,371.8 L427.8,369.2 L428.2,371.2 L428.7,370.5 L429.1,374.1 L429.6,372.2 L430.0,368.8 L430.5,365.7 L430.9,371.0 L431.4,373.7 L431.8,371.5 L432.3,373.0 L432.7,370.3 L433.2,368.3 L433.6,373.2 L434.1,372.0 L434.5,373.5 L435.0,368.9 L435.4,375.3 L435.9,370.7 L436.3,373.7 L436.8,370.6 L437.2,370.5 L437.7,370.2 L438.1,374.3 L438.6,371.3 L439.0,369.5 L439.5,373.7 L439.9,368.8 L440.4,374.6 L440.8,366.8 L441.3,369.4 L441.7,372.9 L442.2,374.0 L442.6,371.0 L443.1,373.0 L443.5,373.1 L444.0,373.7 L444.4,372.0 L444.9,375.6 L445.3,372.0 L445.8,375.0 L446.2,369.0 L446.7,375.9 L447.1,377.3 L447.6,383.4 L448.0,394.3 L448.5,397.9 L448.9,399.6 L449.4,386.2 L449.8,385.7 L450.3,375.8 L450.7,372.1 L451.2,374.9 L451.6,376.4 L452.1,372.2 L452.5,374.7 L453.0,377.8 L453.4,374.7 L453.9,372.4 L454.3,382.9 L454.8,403.5 L455.2,392.6 L455.7,380.5 L456.1,376.7 L456.6,371.9 L457.0,378.4 L457.5,374.7 L457.9,372.3 L458.4,371.7 L458.8,379.4 L459.3,385.1 L459.7,394.6 L460.2,401.5 L460.6,401.9 L461.1,401.9 L461.5,401.8 L462.0,404.6 L462.4,405.5 L462.9,397.9 L463.3,407.5 L463.8,401.6 L464.2,404.3 L464.7,399.5 L465.1,402.1 L465.6,401.7 L466.0,401.4 L466.5,402.7 L466.9,402.0 L467.4,398.4 L467.8,405.6 L468.3,402.6 L468.7,402.2 L469.2,400.1 L469.6,400.2 L470.1,400.5 L470.5,398.3 L471.0,402.1 L471.4,416.5 L471.9,419.8 L472.3,425.0 L472.8,414.1 L473.2,410.3 L473.7,406.1 L474.1,392.2 L474.6,387.2 L475.0,377.2 L475.5,379.9 L475.9,378.3 L476.4,374.4 L476.8,381.1 L477.3,386.5 L477.7,393.7 L478.2,400.8 L478.6,395.5 L479.1,391.3 L479.5,389.4 L480.0,383.2 L480.4,376.5 L480.9,382.4 L481.3,377.4 L481.8,372.2 L482.2,376.3 L482.7,379.8 L483.1,380.3 L483.6,378.8 L484.0,380.0 L484.5,375.0 L484.9,377.8 L485.4,377.4 L485.8,378.6 L486.3,386.2 L486.7,386.9 L487.2,404.3 L487.6,395.1 L488.1,400.9 L488.5,401.9 L489.0,402.1 L489.4,400.7 L489.9,393.5 L490.3,397.8 L490.8,401.8 L491.2,397.9 L491.7,397.9 L492.1,395.0 L492.6,402.8 L493.0,401.2 L493.5,398.0 L493.9,399.6 L494.4,399.8 L494.8,397.5 L495.3,399.3 L495.7,400.5 L496.2,396.0 L496.6,403.4 L497.1,400.3 L497.5,399.5 L498.0,401.3 L498.4,399.0 L498.9,397.3 L499.3,402.7 L499.8,398.9 L500.2,400.1 L500.7,401.6 L501.1,397.3 L501.6,401.4 L502.0,400.9 L502.5,399.7 L502.9,400.9 L503.4,398.3 L503.8,394.9 L504.3,399.2 L504.7,397.6 L505.2,401.8 L505.6,400.4 L506.1,398.9 L506.5,400.2 L507.0,403.4 L507.4,403.0 L507.9,401.2 L508.3,401.5 L508.8,399.9 L509.2,400.8 L509.7,401.5 L510.1,405.4 L510.6,400.7 L511.0,397.3 L511.5,396.0 L511.9,395.4 L512.4,398.7 L512.8,402.8 L513.3,402.5 L513.7,397.7 L514.2,396.7 L514.6,401.8 L515.1,401.1 L515.5,396.8 L516.0,402.4 L516.4,400.5 L516.9,403.0 L517.3,400.5 L517.8,401.4 L518.2,400.1 L518.7,397.2 L519.1,399.4 L519.6,398.2 L520.0,401.8 L520.5,397.6 L520.9,396.3 L521.4,401.6 L521.8,403.0 L522.3,403.6 L522.7,402.5 L523.2,396.9 L523.6,398.5 L524.1,399.0 L524.5,400.4 L525.0,395.3 L525.4,396.3 L525.9,388.3 L526.3,377.2 L526.8,381.0 L527.2,392.8 L527.7,396.2 L528.1,398.7 L528.6,398.5 L529.0,397.4 L529.5,397.6 L529.9,396.0 L530.4,399.5 L530.8,387.2 L531.3,373.6 L531.7,375.4 L532.2,372.2 L532.6,374.8 L533.1,376.2 L533.5,373.8 L534.0,373.9 L534.4,375.7 L534.9,370.3 L535.3,370.2 L535.8,371.0 L536.2,377.1 L536.7,375.1 L537.1,369.5 L537.6,371.6 L538.0,374.6 L538.5,372.2 L538.9,375.5 L539.4,374.5 L539.8,375.4 L540.3,371.6 L540.7,392.3 L541.2,407.5 L541.6,401.2 L542.1,406.2 L542.5,405.2 L543.0,404.5 L543.4,402.7 L543.9,400.1 L544.3,400.7 L544.8,404.5 L545.2,404.9 L545.7,405.3 L546.1,405.2 L546.6,405.0 L547.0,402.2 L547.5,400.4 L547.9,403.6 L548.4,404.4 L548.8,403.9 L549.3,400.2 L549.7,402.2 L550.2,399.6 L550.6,403.4 L551.1,400.5 L551.5,402.6 L552.0,403.7 L552.4,403.5 L552.9,406.4 L553.3,400.8 L553.8,398.6 L554.2,398.3 L554.7,383.0 L555.1,381.3 L555.6,378.4 L556.0,378.3 L556.5,377.4 L556.9,374.0 L557.4,375.8 L557.8,378.1 L558.3,375.4 L558.7,376.1 L559.2,373.0 L559.6,376.1 L560.1,378.1 L560.5,360.7 L561.0,353.4 L561.4,353.0 L561.9,354.3 L562.3,359.5 L562.8,357.3 L563.2,357.4 L563.7,353.9 L564.1,358.4 L564.6,356.6 L565.0,354.3 L565.5,355.2 L565.9,356.9 L566.4,358.9 L566.8,356.0 L567.3,357.3 L567.7,360.4 L568.2,354.0 L568.6,352.9 L569.1,358.0 L569.5,356.7 L570.0,355.6 L570.4,356.3 L570.9,354.7 L571.3,356.7 L571.8,354.9 L572.2,361.8 L572.7,366.5 L573.1,370.6 L573.6,372.6 L574.0,371.1 L574.5,373.9 L574.9,372.2 L575.4,371.0 L575.8,372.5 L576.3,370.8 L576.7,368.1 L577.2,369.0 L577.6,370.0 L578.1,370.8 L578.5,372.2 L579.0,373.6 L579.4,372.9 L579.9,375.6 L580.3,374.4 L580.8,371.1 L581.2,375.3 L581.7,374.3 L582.1,370.6 L582.6,372.7 L583.0,374.5 L583.5,372.6 L583.9,374.6 L584.4,373.1 L584.8,373.8 L585.3,371.5 L585.7,373.2 L586.2,360.2 L586.6,353.7 L587.1,351.5 L587.5,356.0 L588.0,358.0 L588.4,356.4 L588.9,354.7 L589.3,355.9 L589.8,352.6 L590.2,352.5 L590.7,353.7 L591.1,354.1 L591.6,356.0 L592.0,352.4 L592.5,356.8 L592.9,350.9 L593.4,355.1 L593.8,354.7 L594.3,357.4 L594.7,353.4 L595.2,349.6 L595.6,355.8 L596.1,355.1 L596.5,352.8 L597.0,353.0 L597.4,353.8 L597.9,355.9 L598.3,357.3 L598.8,353.0 L599.2,361.5 L599.7,353.3 L600.1,355.3 L600.6,357.5 L601.0,355.9 L601.5,360.8 L601.9,359.5 L602.4,354.1 L602.8,353.9 L603.3,353.4 L603.7,354.0 L604.2,356.3 L604.6,353.4 L605.1,358.4 L605.5,354.4 L606.0,354.5 L606.4,357.1 L606.9,350.6 L607.3,353.0 L607.8,356.8 L608.2,355.6 L608.7,355.7 L609.1,360.6 L609.6,354.4 L610.0,355.7 L610.5,352.7 L610.9,351.3 L611.4,358.0 L611.8,352.7 L612.3,353.2 L612.7,358.1 L613.2,357.4 L613.6,353.4 L614.1,353.5 L614.5,354.4 L615.0,352.6 L615.4,356.4 L615.9,355.6 L616.3,355.6 L616.8,356.9 L617.2,356.7 L617.7,359.4 L618.1,358.7 L618.6,351.1 L619.0,357.2 L619.5,352.3 L619.9,351.5 L620.4,356.4 L620.8,356.0 L621.3,354.1 L621.7,357.2 L622.2,357.2 L622.6,367.8 L623.1,375.9 L623.5,378.2 L624.0,376.8 L624.4,377.6 L624.9,374.2 L625.3,375.7 L625.8,380.5 L626.2,378.2 L626.7,377.9 L627.1,382.1 L627.6,374.9 L628.0,377.0 L628.5,377.1 L628.9,373.8 L629.4,376.1 L629.8,382.3 L630.3,389.8 L630.7,398.2 L631.2,395.8 L631.6,398.6 L632.1,394.2 L632.5,396.2 L633.0,390.8 L633.4,374.1 L633.9,370.0 L634.3,371.9 L634.8,374.2 L635.2,370.0 L635.7,370.8 L636.1,375.3 L636.6,368.5 L637.0,367.5 L637.5,364.9 L637.9,370.5 L638.4,370.0 L638.8,364.5 L639.3,355.2 L639.7,351.6 L640.2,353.9 L640.6,356.0 L641.1,352.5 L641.5,352.7 L642.0,352.6 L642.4,354.6 L642.9,355.1 L643.3,355.6 L643.8,353.4 L644.2,353.7 L644.7,355.2 L645.1,351.4 L645.6,354.5 L646.0,355.3 L646.5,356.3 L646.9,354.0 L647.4,353.7 L647.8,354.3 L648.3,352.3 L648.7,353.5 L649.2,355.0 L649.6,354.6 L650.1,351.6 L650.5,357.1 L651.0,348.7 L651.4,356.0 L651.9,352.9 L652.3,349.2 L652.8,351.8 L653.2,354.4 L653.7,355.6 L654.1,360.7 L654.6,361.0 L655.0,371.4 L655.5,374.5 L655.9,378.2 L656.4,386.2 L656.8,389.7 L657.3,394.3 L657.7,396.5 L658.2,398.4 L658.6,397.8 L659.1,397.3 L659.5,395.5 L660.0,397.0 L660.4,399.2 L660.9,400.7 L661.3,398.1 L661.8,401.5 L662.2,403.7 L662.7,395.7 L663.1,399.7 L663.6,395.7 L664.0,398.7 L664.5,400.3 L664.9,397.3 L665.4,397.3 L665.8,403.0 L666.3,389.8 L666.7,375.0 L667.2,376.1 L667.6,374.3 L668.1,374.6 L668.5,375.6 L669.0,369.5 L669.4,378.3 L669.9,372.4 L670.3,372.5 L670.8,376.2 L671.2,374.9 L671.7,371.8 L672.1,374.9 L672.6,371.7 L673.0,372.7 L673.5,370.8 L673.9,366.7 L674.4,363.8 L674.8,357.2 L675.3,355.0 L675.7,356.5 L676.2,354.5 L676.6,353.3 L677.1,354.2 L677.5,359.0 L678.0,355.0 L678.4,355.7 L678.9,354.6 L679.3,355.2 L679.8,355.6 L680.2,354.4 L680.7,354.3 L681.1,352.7 L681.6,356.8 L682.0,355.6 L682.5,356.8 L682.9,364.9 L683.4,367.3 L683.8,368.8 L684.3,372.3 L684.7,372.7 L685.2,367.7 L685.6,373.1 L686.1,372.9 L686.5,375.4 L687.0,369.0 L687.4,382.3 L687.9,400.7 L688.3,394.6 L688.8,397.3 L689.2,396.4 L689.7,396.3 L690.1,394.6 L690.6,398.5 L691.0,401.2 L691.5,399.9 L691.9,400.0 L692.4,396.0 L692.8,402.4 L693.3,393.5 L693.7,382.7 L694.2,371.2 L694.6,375.7 L695.1,372.5 L695.5,376.1 L696.0,376.0 L696.4,372.9 L696.9,376.1 L697.3,378.1 L697.8,376.7 L698.2,376.5 L698.7,372.8 L699.1,373.1 L699.6,362.3 L700.0,353.1 L700.5,355.6 L700.9,354.1 L701.4,353.1 L701.8,350.7 L702.3,354.6 L702.7,353.0 L703.2,349.1 L703.6,349.3 L704.1,352.3 L704.5,346.5 L705.0,357.1 L705.4,353.4 L705.9,350.7 L706.3,351.9 L706.8,356.5 L707.2,350.7 L707.7,354.6 L708.1,353.6 L708.6,355.9 L709.0,353.9 L709.5,352.2 L709.9,354.3 L710.4,353.6 L710.8,355.6 L711.3,353.0 L711.7,357.9 L712.2,353.4 L712.6,354.5 L713.1,351.6 L713.5,353.5 L714.0,353.2 L714.4,353.3 L714.9,352.8 L715.3,351.9 L715.8,351.0 L716.2,355.5 L716.7,352.4 L717.1,351.5 L717.6,355.6 L718.0,355.1 L718.5,347.1 L718.9,355.7 L719.4,354.7 L719.8,354.9 L720.3,351.6 L720.7,356.3 L721.2,351.0 L721.6,352.1 L722.1,353.2 L722.5,353.0 L723.0,355.1 L723.4,355.7 L723.9,353.4 L724.3,356.5 L724.8,351.7 L725.2,352.9 L725.7,357.2 L726.1,353.4 L726.6,355.6 L727.0,352.0 L727.5,352.3 L727.9,352.6 L728.4,353.3 L728.8,352.2 L729.3,353.0 L729.7,354.4 L730.2,355.6 L730.6,347.8 L731.1,354.6 L731.5,355.5 L732.0,350.9 L732.4,349.6 L732.9,356.9 L733.3,356.4 L733.8,353.5 L734.2,354.0 L734.7,350.7 L735.1,349.4 L735.6,353.3 L736.0,349.4 L736.5,354.8 L736.9,351.2 L737.4,352.7 L737.8,357.5 L738.3,357.6 L738.7,353.7 L739.2,356.0 L739.6,351.2 L740.1,352.3 L740.5,354.8 L741.0,358.7 L741.4,355.3 L741.9,359.3 L742.3,359.8 L742.8,358.2 L743.2,362.2 L743.7,367.4 L744.1,365.2 L744.6,368.1 L745.0,370.8 L745.5,368.8 L745.9,374.8 L746.4,376.7 L746.8,378.1 L747.3,379.1 L747.7,376.4 L748.2,377.5 L748.6,378.1 L749.1,379.2 L749.5,380.7 L750.0,386.3 L750.4,386.9 L750.9,380.6 L751.3,383.0 L751.8,376.7 L752.2,374.2 L752.7,367.7 L753.1,361.5 L753.6,360.3 L754.0,355.1 L754.5,351.8 L754.9,351.3 L755.4,350.1 L755.8,351.9 L756.3,350.9 L756.7,352.8 L757.2,349.6 L757.6,353.2 L758.1,355.3 L758.5,369.7 L759.0,364.3 L759.4,354.5 L759.9,352.3 L760.3,349.8 L760.8,353.9 L761.2,357.0 L761.7,357.6 L762.1,351.6 L762.6,352.4 L763.0,353.1 L763.5,351.4 L763.9,354.3 L764.4,353.9 L764.8,352.7 L765.3,353.8 L765.7,350.2 L766.2,351.4 L766.6,351.7 L767.1,356.0 L767.5,350.2 L768.0,353.5" fill="none" stroke="#111" stroke-width="1.65" stroke-linejoin="round"/>
<path d="M88.2,122.5 L88.2,143.5 L136.3,143.5" fill="none" stroke="#000" stroke-width="2.8" stroke-linecap="round" stroke-linejoin="miter"/>
<path d="M92.16,775.7 V773.99 H96.24 V775.7 M96.24,775.7 V772.52 H100.32 V775.7 M100.32,775.7 V770.32 H104.40 V775.7 M104.40,775.7 V768.12 H108.48 V775.7 M108.48,775.7 V765.68 H112.56 V775.7 M112.56,775.7 V762.50 H116.64 V775.7 M116.64,775.7 V756.87 H120.72 V775.7 M120.72,775.7 V751.98 H124.80 V775.7 M124.80,775.7 V744.40 H128.88 V775.7 M128.88,775.7 V737.31 H132.96 V775.7 M132.96,775.7 V731.20 H137.04 V775.7 M137.04,775.7 V724.11 H141.12 V775.7 M141.12,775.7 V723.62 H145.20 V775.7 M145.20,775.7 V718.49 H149.28 V775.7 M149.28,775.7 V718.49 H153.36 V775.7 M153.36,775.7 V718.49 H157.44 V775.7 M157.44,775.7 V724.60 H161.52 V775.7 M161.52,775.7 V727.78 H165.60 V775.7 M165.60,775.7 V732.18 H169.68 V775.7 M169.68,775.7 V736.82 H173.76 V775.7 M173.76,775.7 V740.74 H177.84 V775.7 M177.84,775.7 V745.38 H181.92 V775.7 M181.92,775.7 V745.38 H186.00 V775.7 M186.00,775.7 V745.38 H190.08 V775.7 M190.08,775.7 V742.69 H194.16 V775.7 M194.16,775.7 V735.55 H198.24 V775.7 M198.24,775.7 V730.99 H202.32 V775.7 M202.32,775.7 V717.64 H206.40 V775.7 M206.40,775.7 V704.00 H210.48 V775.7 M210.48,775.7 V691.59 H214.56 V775.7 M214.56,775.7 V674.48 H218.64 V775.7 M218.64,775.7 V660.30 H222.72 V775.7 M222.72,775.7 V652.47 H226.80 V775.7 M226.80,775.7 V644.16 H230.88 V775.7 M230.88,775.7 V644.16 H234.96 V775.7 M234.96,775.7 V650.27 H239.04 V775.7 M239.04,775.7 V659.07 H243.12 V775.7 M243.12,775.7 V673.25 H247.20 V775.7 M247.20,775.7 V687.19 H251.28 V775.7 M251.28,775.7 V699.73 H255.36 V775.7 M255.36,775.7 V718.00 H259.44 V775.7 M259.44,775.7 V727.53 H263.52 V775.7 M263.52,775.7 V732.67 H267.60 V775.7 M267.60,775.7 V737.80 H271.68 V775.7 M271.68,775.7 V736.82 H275.76 V775.7 M275.76,775.7 V735.11 H279.84 V775.7 M279.84,775.7 V725.33 H283.92 V775.7 M283.92,775.7 V709.44 H288.00 V775.7 M288.00,775.7 V686.95 H292.08 V775.7 M292.08,775.7 V657.85 H296.16 V775.7 M296.16,775.7 V628.02 H300.24 V775.7 M300.24,775.7 V589.88 H304.32 V775.7 M304.32,775.7 V563.47 H308.40 V775.7 M308.40,775.7 V544.89 H312.48 V775.7 M312.48,775.7 V548.80 H316.56 V775.7 M316.56,775.7 V568.36 H320.64 V775.7 M320.64,775.7 V605.28 H324.72 V775.7 M324.72,775.7 V639.51 H328.80 V775.7 M328.80,775.7 V678.32 H332.88 V775.7 M332.88,775.7 V716.04 H336.96 V775.7 M336.96,775.7 V738.29 H341.04 V775.7 M341.04,775.7 V755.41 H345.12 V775.7 M345.12,775.7 V766.65 H349.20 V775.7 M349.20,775.7 V772.28 H353.28 V775.7 M353.28,775.7 V774.97 H357.36 V775.7" fill="none" stroke="#000" stroke-width="1.5"/>
<path d="M70.0,775.49 L71.0,775.46 L72.0,775.43 L73.0,775.39 L74.0,775.35 L75.0,775.30 L76.0,775.25 L77.0,775.19 L78.0,775.12 L79.0,775.04 L80.0,774.96 L81.0,774.87 L82.0,774.76 L83.0,774.65 L84.0,774.52 L85.0,774.39 L86.0,774.23 L87.0,774.07 L88.0,773.88 L89.0,773.68 L90.0,773.46 L91.0,773.22 L92.0,772.96 L93.0,772.68 L94.0,772.38 L95.0,772.05 L96.0,771.69 L97.0,771.30 L98.0,770.89 L99.0,770.44 L100.0,769.97 L101.0,769.46 L102.0,768.92 L103.0,768.34 L104.0,767.72 L105.0,767.07 L106.0,766.38 L107.0,765.65 L108.0,764.88 L109.0,764.08 L110.0,763.23 L111.0,762.34 L112.0,761.41 L113.0,760.45 L114.0,759.44 L115.0,758.40 L116.0,757.32 L117.0,756.21 L118.0,755.06 L119.0,753.88 L120.0,752.67 L121.0,751.43 L122.0,750.17 L123.0,748.88 L124.0,747.58 L125.0,746.26 L126.0,744.93 L127.0,743.60 L128.0,742.26 L129.0,740.92 L130.0,739.59 L131.0,738.26 L132.0,736.96 L133.0,735.67 L134.0,734.41 L135.0,733.17 L136.0,731.98 L137.0,730.82 L138.0,729.70 L139.0,728.64 L140.0,727.63 L141.0,726.68 L142.0,725.79 L143.0,724.97 L144.0,724.22 L145.0,723.54 L146.0,722.94 L147.0,722.41 L148.0,721.97 L149.0,721.62 L150.0,721.35 L151.0,721.16 L152.0,721.07 L153.0,721.06 L154.0,721.13 L155.0,721.29 L156.0,721.54 L157.0,721.87 L158.0,722.27 L159.0,722.76 L160.0,723.31 L161.0,723.94 L162.0,724.63 L163.0,725.38 L164.0,726.19 L165.0,727.05 L166.0,727.95 L167.0,728.88 L168.0,729.85 L169.0,730.83 L170.0,731.84 L171.0,732.85 L172.0,733.85 L173.0,734.85 L174.0,735.84 L175.0,736.79 L176.0,737.71 L177.0,738.59 L178.0,739.41 L179.0,740.18 L180.0,740.87 L181.0,741.48 L182.0,742.00 L183.0,742.42 L184.0,742.74 L185.0,742.95 L186.0,743.03 L187.0,742.98 L188.0,742.79 L189.0,742.46 L190.0,741.97 L191.0,741.33 L192.0,740.53 L193.0,739.57 L194.0,738.43 L195.0,737.12 L196.0,735.64 L197.0,733.98 L198.0,732.15 L199.0,730.15 L200.0,727.98 L201.0,725.65 L202.0,723.15 L203.0,720.51 L204.0,717.72 L205.0,714.80 L206.0,711.76 L207.0,708.60 L208.0,705.35 L209.0,702.02 L210.0,698.62 L211.0,695.18 L212.0,691.70 L213.0,688.22 L214.0,684.74 L215.0,681.29 L216.0,677.90 L217.0,674.57 L218.0,671.34 L219.0,668.23 L220.0,665.24 L221.0,662.42 L222.0,659.76 L223.0,657.30 L224.0,655.06 L225.0,653.04 L226.0,651.26 L227.0,649.73 L228.0,648.48 L229.0,647.50 L230.0,646.81 L231.0,646.41 L232.0,646.30 L233.0,646.49 L234.0,646.97 L235.0,647.74 L236.0,648.81 L237.0,650.15 L238.0,651.77 L239.0,653.65 L240.0,655.77 L241.0,658.13 L242.0,660.71 L243.0,663.50 L244.0,666.47 L245.0,669.60 L246.0,672.89 L247.0,676.30 L248.0,679.81 L249.0,683.42 L250.0,687.08 L251.0,690.80 L252.0,694.53 L253.0,698.28 L254.0,702.00 L255.0,705.69 L256.0,709.33 L257.0,712.90 L258.0,716.38 L259.0,719.75 L260.0,723.00 L261.0,726.12 L262.0,729.08 L263.0,731.87 L264.0,734.48 L265.0,736.89 L266.0,739.09 L267.0,741.05 L268.0,742.78 L269.0,744.24 L270.0,745.42 L271.0,746.31 L272.0,746.89 L273.0,747.14 L274.0,747.04 L275.0,746.58 L276.0,745.73 L277.0,744.48 L278.0,742.81 L279.0,740.71 L280.0,738.15 L281.0,735.13 L282.0,731.64 L283.0,727.66 L284.0,723.19 L285.0,718.24 L286.0,712.80 L287.0,706.88 L288.0,700.51 L289.0,693.71 L290.0,686.50 L291.0,678.91 L292.0,671.00 L293.0,662.81 L294.0,654.39 L295.0,645.81 L296.0,637.15 L297.0,628.47 L298.0,619.84 L299.0,611.37 L300.0,603.12 L301.0,595.19 L302.0,587.66 L303.0,580.61 L304.0,574.13 L305.0,568.29 L306.0,563.15 L307.0,558.79 L308.0,555.26 L309.0,552.60 L310.0,550.84 L311.0,550.01 L312.0,550.14 L313.0,551.31 L314.0,553.51 L315.0,556.71 L316.0,560.87 L317.0,565.94 L318.0,571.84 L319.0,578.49 L320.0,585.82 L321.0,593.72 L322.0,602.11 L323.0,610.88 L324.0,619.94 L325.0,629.19 L326.0,638.53 L327.0,647.87 L328.0,657.14 L329.0,666.24 L330.0,675.11 L331.0,683.70 L332.0,691.95 L333.0,699.81 L334.0,707.25 L335.0,714.25 L336.0,720.80 L337.0,726.87 L338.0,732.48 L339.0,737.62 L340.0,742.30 L341.0,746.55 L342.0,750.37 L343.0,753.80 L344.0,756.85 L345.0,759.55 L346.0,761.93 L347.0,764.01 L348.0,765.82 L349.0,767.40 L350.0,768.75 L351.0,769.91 L352.0,770.90 L353.0,771.74 L354.0,772.45 L355.0,773.04 L356.0,773.53 L357.0,773.95 L358.0,774.29 L359.0,774.56 L360.0,774.79 L361.0,774.98 L362.0,775.13 L363.0,775.25 L364.0,775.35 L365.0,775.43 L366.0,775.49 L367.0,775.53 L368.0,775.57 L369.0,775.60 L370.0,775.63 L371.0,775.64 L372.0,775.66 L373.0,775.67 L374.0,775.68 L375.0,775.68 L376.0,775.69 L377.0,775.69 L378.0,775.69 L379.0,775.69 L380.0,775.70 L381.0,775.70 L382.0,775.70" fill="none" stroke="#000" stroke-width="2.6" stroke-linejoin="round"/>
<rect x="69.7" y="531.2" width="313.2" height="244.5" fill="none" stroke="#000" stroke-width="1.3"/>
<line x1="58.5" y1="775.70" x2="69.7" y2="775.70" stroke="#000" stroke-width="1.3"/>
<text x="48" y="783.20" font-size="21" text-anchor="end" fill="#000">0</text>
<line x1="58.5" y1="726.80" x2="69.7" y2="726.80" stroke="#000" stroke-width="1.3"/>
<text x="48" y="734.30" font-size="21" text-anchor="end" fill="#000">2</text>
<line x1="58.5" y1="677.90" x2="69.7" y2="677.90" stroke="#000" stroke-width="1.3"/>
<text x="48" y="685.40" font-size="21" text-anchor="end" fill="#000">4</text>
<line x1="58.5" y1="629.00" x2="69.7" y2="629.00" stroke="#000" stroke-width="1.3"/>
<text x="48" y="636.50" font-size="21" text-anchor="end" fill="#000">6</text>
<line x1="58.5" y1="580.10" x2="69.7" y2="580.10" stroke="#000" stroke-width="1.3"/>
<text x="48" y="587.60" font-size="21" text-anchor="end" fill="#000">8</text>
<line x1="58.5" y1="531.20" x2="69.7" y2="531.20" stroke="#000" stroke-width="1.3"/>
<text x="48" y="538.70" font-size="21" text-anchor="end" fill="#000">10</text>
<line x1="104.34" y1="775.7" x2="104.34" y2="787" stroke="#000" stroke-width="1.3"/>
<text x="104.34" y="815" font-size="21" text-anchor="middle" fill="#000">-0.6</text>
<line x1="174.16" y1="775.7" x2="174.16" y2="787" stroke="#000" stroke-width="1.3"/>
<text x="174.16" y="815" font-size="21" text-anchor="middle" fill="#000">-0.4</text>
<line x1="243.98" y1="775.7" x2="243.98" y2="787" stroke="#000" stroke-width="1.3"/>
<text x="243.98" y="815" font-size="21" text-anchor="middle" fill="#000">-0.2</text>
<line x1="313.80" y1="775.7" x2="313.80" y2="787" stroke="#000" stroke-width="1.3"/>
<text x="313.80" y="815" font-size="21" text-anchor="middle" fill="#000">0.0</text>
<line x1="383.62" y1="775.7" x2="383.62" y2="787" stroke="#000" stroke-width="1.3"/>
<text x="383.62" y="815" font-size="21" text-anchor="middle" fill="#000">0.2</text>
<text x="228.7" y="840" font-size="21" font-weight="bold" text-anchor="middle" fill="#000">I(pA)</text>
<text transform="translate(20.6,775) rotate(-90)" font-size="20.85" fill="#000">Number of events (* 10<tspan font-size="13" dy="-10">-3</tspan><tspan dy="10">)</tspan></text>
<rect x="615.35" y="618.97" width="16" height="16" fill="#a0a0a0" stroke="#111" stroke-width="1.5"/>
<rect x="727.40" y="691.86" width="16" height="16" fill="#a0a0a0" stroke="#111" stroke-width="1.5"/>
<rect x="474.30" y="581.00" width="74" height="193.00" fill="#fff" stroke="#000" stroke-width="1.3"/>
<rect x="586.35" y="626.97" width="74" height="147.03" fill="#fff" stroke="#000" stroke-width="1.3"/>
<rect x="698.40" y="699.86" width="74" height="74.14" fill="#fff" stroke="#000" stroke-width="1.3"/>
<circle cx="511.30" cy="578.51" r="8.9" fill="#b5b5b5" stroke="#111" stroke-width="1.3"/>
<circle cx="623.35" cy="595.49" r="8.9" fill="#b5b5b5" stroke="#111" stroke-width="1.3"/>
<circle cx="735.40" cy="733.00" r="8.9" fill="#b5b5b5" stroke="#111" stroke-width="1.3"/>
<rect x="455.6" y="525.5" width="335.4" height="248.5" fill="none" stroke="#000" stroke-width="1.3"/>
<line x1="444.5" y1="774.00" x2="455.6" y2="774.00" stroke="#000" stroke-width="1.3"/>
<text x="433.5" y="781.50" font-size="21" text-anchor="end" fill="#000">0.0</text>
<line x1="444.5" y1="691.17" x2="455.6" y2="691.17" stroke="#000" stroke-width="1.3"/>
<text x="433.5" y="698.67" font-size="21" text-anchor="end" fill="#000">0.2</text>
<line x1="444.5" y1="608.33" x2="455.6" y2="608.33" stroke="#000" stroke-width="1.3"/>
<text x="433.5" y="615.83" font-size="21" text-anchor="end" fill="#000">0.4</text>
<line x1="444.5" y1="525.50" x2="455.6" y2="525.50" stroke="#000" stroke-width="1.3"/>
<text x="433.5" y="533.00" font-size="21" text-anchor="end" fill="#000">0.6</text>
<line x1="511.30" y1="774.0" x2="511.30" y2="785.5" stroke="#000" stroke-width="1.3"/>
<text x="511.30" y="814.2" font-size="21" text-anchor="middle" fill="#000">0</text>
<line x1="623.35" y1="774.0" x2="623.35" y2="785.5" stroke="#000" stroke-width="1.3"/>
<text x="623.35" y="814.2" font-size="21" text-anchor="middle" fill="#000">1</text>
<line x1="735.40" y1="774.0" x2="735.40" y2="785.5" stroke="#000" stroke-width="1.3"/>
<text x="735.40" y="814.2" font-size="21" text-anchor="middle" fill="#000">2</text>
<text x="626" y="838" font-size="21" text-anchor="middle" fill="#000">open level</text>
<text transform="translate(401.6,648.5) rotate(-90)" font-size="21" text-anchor="middle" fill="#000">p</text>
</svg>
</body></html>
